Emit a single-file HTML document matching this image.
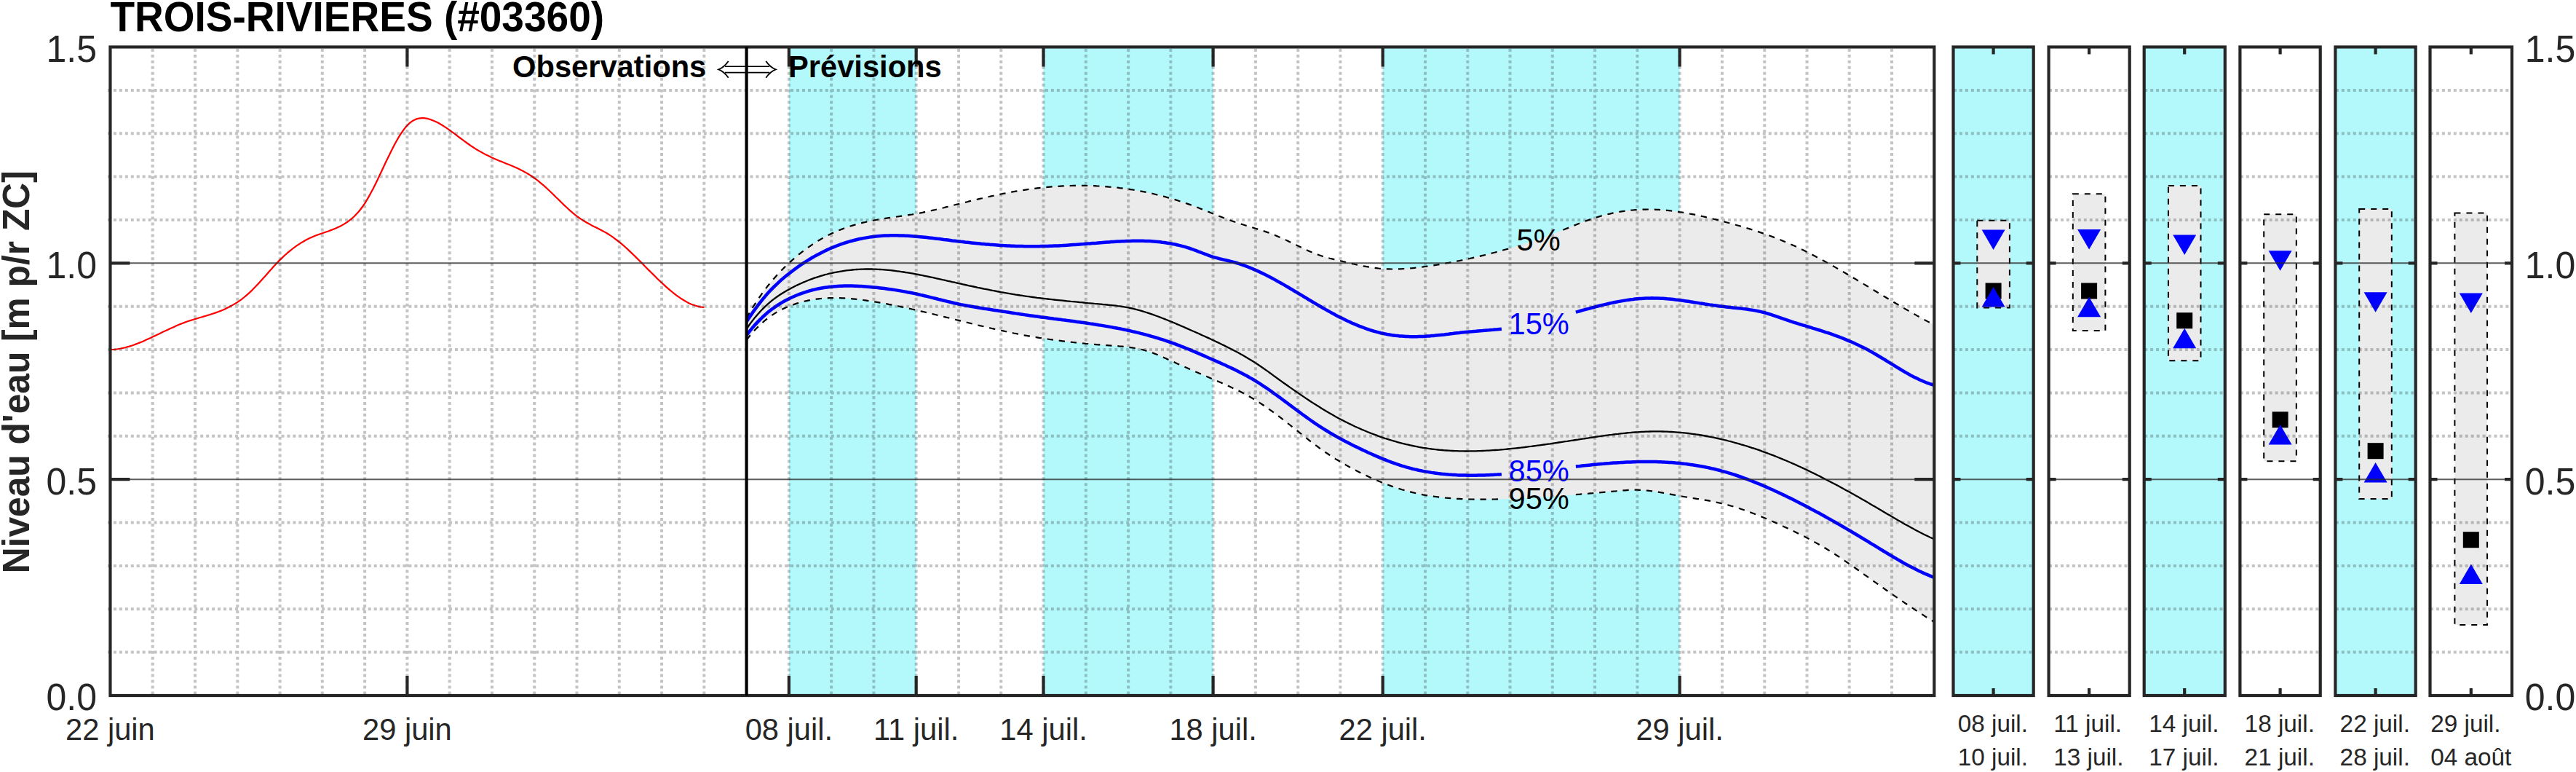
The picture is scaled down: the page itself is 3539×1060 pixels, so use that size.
<!DOCTYPE html>
<html lang="fr"><head><meta charset="utf-8"><title>TROIS-RIVIERES (#03360)</title>
<style>html,body{margin:0;padding:0;background:#fff}svg{display:block}text{font-family:"Liberation Sans",Arial,sans-serif}</style></head><body>
<svg width="3539" height="1060" viewBox="0 0 3539 1060">
<rect width="3539" height="1060" fill="#fff"/>
<rect x="1083.9" y="64.5" width="174.8" height="890.5" fill="#b3f9fc"/>
<rect x="1433.5" y="64.5" width="233.1" height="890.5" fill="#b3f9fc"/>
<rect x="1899.7" y="64.5" width="407.9" height="890.5" fill="#b3f9fc"/>
<path d="M1025.6 436.8 L1031.4 426.7 L1037.2 417.3 L1043.1 408.5 L1048.9 400.3 L1054.7 392.7 L1060.5 385.6 L1066.4 378.9 L1072.2 372.7 L1078.0 366.8 L1083.9 361.2 L1089.7 356.0 L1095.5 351.0 L1101.3 346.3 L1107.2 341.9 L1113.0 337.8 L1118.8 333.9 L1124.7 330.2 L1130.5 326.9 L1136.3 323.7 L1142.1 320.8 L1148.0 318.2 L1153.8 315.7 L1159.6 313.5 L1165.4 311.4 L1171.3 309.6 L1177.1 307.9 L1182.9 306.4 L1188.8 305.0 L1194.6 303.7 L1200.4 302.6 L1206.2 301.5 L1212.1 300.5 L1217.9 299.6 L1223.7 298.8 L1229.5 298.0 L1235.4 297.1 L1241.2 296.3 L1247.0 295.4 L1252.9 294.5 L1258.7 293.5 L1264.5 292.4 L1270.3 291.2 L1276.2 289.9 L1282.0 288.6 L1287.8 287.3 L1293.7 285.9 L1299.5 284.4 L1305.3 283.0 L1311.1 281.5 L1317.0 280.1 L1322.8 278.6 L1328.6 277.2 L1334.4 275.7 L1340.3 274.3 L1346.1 272.9 L1351.9 271.6 L1357.8 270.3 L1363.6 269.0 L1369.4 267.7 L1375.2 266.5 L1381.1 265.4 L1386.9 264.3 L1392.7 263.2 L1398.5 262.2 L1404.4 261.2 L1410.2 260.4 L1416.0 259.5 L1421.9 258.8 L1427.7 258.1 L1433.5 257.4 L1439.3 256.9 L1445.2 256.4 L1451.0 256.0 L1456.8 255.6 L1462.7 255.3 L1468.5 255.1 L1474.3 254.9 L1480.1 254.8 L1486.0 254.8 L1491.8 254.9 L1497.6 255.0 L1503.4 255.2 L1509.3 255.5 L1515.1 255.9 L1520.9 256.3 L1526.8 256.8 L1532.6 257.4 L1538.4 258.1 L1544.2 258.8 L1550.1 259.6 L1555.9 260.5 L1561.7 261.5 L1567.5 262.6 L1573.4 263.7 L1579.2 265.0 L1585.0 266.3 L1590.9 267.7 L1596.7 269.2 L1602.5 270.7 L1608.3 272.4 L1614.2 274.1 L1620.0 276.0 L1625.8 277.9 L1631.6 279.9 L1637.5 282.0 L1643.3 284.2 L1649.1 286.4 L1655.0 288.7 L1660.8 291.1 L1666.6 293.4 L1672.4 295.7 L1678.3 298.0 L1684.1 300.3 L1689.9 302.4 L1695.8 304.5 L1701.6 306.4 L1707.4 308.3 L1713.2 310.1 L1719.1 311.9 L1724.9 313.7 L1730.7 315.5 L1736.5 317.4 L1742.4 319.4 L1748.2 321.6 L1754.0 323.9 L1759.9 326.4 L1765.7 329.1 L1771.5 331.9 L1777.3 334.7 L1783.2 337.6 L1789.0 340.4 L1794.8 343.1 L1800.6 345.7 L1806.5 348.1 L1812.3 350.3 L1818.1 352.2 L1824.0 353.9 L1829.8 355.4 L1835.6 356.9 L1841.4 358.2 L1847.3 359.6 L1853.1 361.0 L1858.9 362.3 L1864.8 363.6 L1870.6 364.8 L1876.4 365.9 L1882.2 366.9 L1888.1 367.8 L1893.9 368.5 L1899.7 369.0 L1905.5 369.3 L1911.4 369.5 L1917.2 369.5 L1923.0 369.3 L1928.9 369.0 L1934.7 368.6 L1940.5 368.1 L1946.3 367.4 L1952.2 366.7 L1958.0 366.0 L1963.8 365.2 L1969.6 364.3 L1975.5 363.4 L1981.3 362.4 L1987.1 361.4 L1993.0 360.3 L1998.8 359.2 L2004.6 358.1 L2010.4 356.9 L2016.3 355.6 L2022.1 354.3 L2027.9 353.0 L2033.8 351.6 L2039.6 350.2 L2045.4 348.7 L2051.2 347.2 L2057.1 345.7 L2062.9 344.1 L2068.7 342.5 L2074.5 340.8 L2080.4 339.1 L2086.2 337.4 L2092.0 335.6 L2097.9 333.8 L2103.7 331.9 L2109.5 329.9 L2115.3 327.9 L2121.2 325.8 L2127.0 323.7 L2132.8 321.5 L2138.6 319.2 L2144.5 316.9 L2150.3 314.5 L2156.1 312.2 L2162.0 309.8 L2167.8 307.5 L2173.6 305.3 L2179.4 303.1 L2185.3 301.1 L2191.1 299.1 L2196.9 297.4 L2202.8 295.7 L2208.6 294.2 L2214.4 292.9 L2220.2 291.7 L2226.1 290.7 L2231.9 289.8 L2237.7 289.1 L2243.5 288.5 L2249.4 288.0 L2255.2 287.7 L2261.0 287.6 L2266.9 287.5 L2272.7 287.7 L2278.5 287.9 L2284.3 288.3 L2290.2 288.8 L2296.0 289.5 L2301.8 290.2 L2307.6 291.1 L2313.5 292.0 L2319.3 293.0 L2325.1 294.1 L2331.0 295.3 L2336.8 296.6 L2342.6 297.9 L2348.4 299.2 L2354.3 300.7 L2360.1 302.1 L2365.9 303.6 L2371.7 305.2 L2377.6 306.7 L2383.4 308.3 L2389.2 310.0 L2395.1 311.7 L2400.9 313.5 L2406.7 315.3 L2412.5 317.2 L2418.4 319.1 L2424.2 321.1 L2430.0 323.2 L2435.9 325.4 L2441.7 327.6 L2447.5 330.0 L2453.3 332.4 L2459.2 335.0 L2465.0 337.6 L2470.8 340.3 L2476.6 343.1 L2482.5 346.0 L2488.3 349.0 L2494.1 352.0 L2500.0 355.1 L2505.8 358.3 L2511.6 361.5 L2517.4 364.8 L2523.3 368.1 L2529.1 371.4 L2534.9 374.8 L2540.7 378.3 L2546.6 381.7 L2552.4 385.2 L2558.2 388.7 L2564.1 392.2 L2569.9 395.7 L2575.7 399.2 L2581.5 402.7 L2587.4 406.3 L2593.2 409.8 L2599.0 413.2 L2604.9 416.7 L2610.7 420.1 L2616.5 423.6 L2622.3 426.9 L2628.2 430.3 L2634.0 433.6 L2639.8 436.8 L2645.6 440.0 L2651.5 443.1 L2657.3 446.2 L2657.3 854.1 L2651.5 850.5 L2645.6 846.8 L2639.8 843.0 L2634.0 839.2 L2628.2 835.4 L2622.3 831.5 L2616.5 827.6 L2610.7 823.6 L2604.9 819.6 L2599.0 815.6 L2593.2 811.5 L2587.4 807.4 L2581.5 803.3 L2575.7 799.2 L2569.9 795.0 L2564.1 790.8 L2558.2 786.7 L2552.4 782.5 L2546.6 778.4 L2540.7 774.3 L2534.9 770.3 L2529.1 766.4 L2523.3 762.5 L2517.4 758.7 L2511.6 755.1 L2505.8 751.6 L2500.0 748.2 L2494.1 744.9 L2488.3 741.7 L2482.5 738.6 L2476.6 735.6 L2470.8 732.7 L2465.0 729.8 L2459.2 727.0 L2453.3 724.2 L2447.5 721.5 L2441.7 718.8 L2435.9 716.2 L2430.0 713.7 L2424.2 711.2 L2418.4 708.8 L2412.5 706.4 L2406.7 704.2 L2400.9 702.0 L2395.1 700.0 L2389.2 698.0 L2383.4 696.2 L2377.6 694.5 L2371.7 692.9 L2365.9 691.4 L2360.1 690.1 L2354.3 688.9 L2348.4 687.7 L2342.6 686.7 L2336.8 685.7 L2331.0 684.8 L2325.1 683.9 L2319.3 682.9 L2313.5 682.0 L2307.6 681.0 L2301.8 679.9 L2296.0 678.8 L2290.2 677.8 L2284.3 676.7 L2278.5 675.7 L2272.7 674.8 L2266.9 674.0 L2261.0 673.4 L2255.2 673.0 L2249.4 672.7 L2243.5 672.7 L2237.7 672.9 L2231.9 673.3 L2226.1 673.8 L2220.2 674.3 L2214.4 674.8 L2208.6 675.3 L2202.8 675.8 L2196.9 676.4 L2191.1 676.9 L2185.3 677.4 L2179.4 677.9 L2173.6 678.4 L2167.8 678.9 L2162.0 679.4 L2156.1 679.9 L2150.3 680.4 L2144.5 680.9 L2138.6 681.3 L2132.8 681.7 L2127.0 682.1 L2121.2 682.5 L2115.3 682.9 L2109.5 683.3 L2103.7 683.6 L2097.9 683.9 L2092.0 684.2 L2086.2 684.5 L2080.4 684.7 L2074.5 684.9 L2068.7 685.1 L2062.9 685.3 L2057.1 685.4 L2051.2 685.5 L2045.4 685.6 L2039.6 685.6 L2033.8 685.6 L2027.9 685.6 L2022.1 685.5 L2016.3 685.4 L2010.4 685.2 L2004.6 684.9 L1998.8 684.6 L1993.0 684.2 L1987.1 683.7 L1981.3 683.1 L1975.5 682.4 L1969.6 681.6 L1963.8 680.8 L1958.0 679.8 L1952.2 678.7 L1946.3 677.5 L1940.5 676.1 L1934.7 674.7 L1928.9 673.0 L1923.0 671.3 L1917.2 669.4 L1911.4 667.4 L1905.5 665.2 L1899.7 663.0 L1893.9 660.6 L1888.1 658.1 L1882.2 655.4 L1876.4 652.7 L1870.6 649.9 L1864.8 647.0 L1858.9 643.9 L1853.1 640.8 L1847.3 637.5 L1841.4 634.1 L1835.6 630.6 L1829.8 626.9 L1824.0 623.0 L1818.1 619.0 L1812.3 614.9 L1806.5 610.6 L1800.6 606.1 L1794.8 601.5 L1789.0 596.9 L1783.2 592.2 L1777.3 587.6 L1771.5 583.0 L1765.7 578.4 L1759.9 573.9 L1754.0 569.5 L1748.2 565.2 L1742.4 561.0 L1736.5 557.0 L1730.7 553.1 L1724.9 549.4 L1719.1 546.0 L1713.2 542.7 L1707.4 539.6 L1701.6 536.6 L1695.8 533.8 L1689.9 531.0 L1684.1 528.4 L1678.3 525.8 L1672.4 523.2 L1666.6 520.7 L1660.8 518.2 L1655.0 515.7 L1649.1 513.2 L1643.3 510.7 L1637.5 508.2 L1631.6 505.6 L1625.8 503.0 L1620.0 500.5 L1614.2 497.8 L1608.3 495.2 L1602.5 492.5 L1596.7 489.9 L1590.9 487.4 L1585.0 485.1 L1579.2 483.0 L1573.4 481.2 L1567.5 479.7 L1561.7 478.5 L1555.9 477.5 L1550.1 476.7 L1544.2 476.0 L1538.4 475.5 L1532.6 475.0 L1526.8 474.6 L1520.9 474.2 L1515.1 473.7 L1509.3 473.3 L1503.4 472.8 L1497.6 472.3 L1491.8 471.8 L1486.0 471.2 L1480.1 470.6 L1474.3 470.0 L1468.5 469.3 L1462.7 468.7 L1456.8 467.9 L1451.0 467.2 L1445.2 466.4 L1439.3 465.5 L1433.5 464.7 L1427.7 463.8 L1421.9 462.8 L1416.0 461.8 L1410.2 460.8 L1404.4 459.7 L1398.5 458.6 L1392.7 457.5 L1386.9 456.3 L1381.1 455.0 L1375.2 453.8 L1369.4 452.5 L1363.6 451.2 L1357.8 449.8 L1351.9 448.4 L1346.1 447.1 L1340.3 445.6 L1334.4 444.2 L1328.6 442.8 L1322.8 441.4 L1317.0 439.9 L1311.1 438.5 L1305.3 437.0 L1299.5 435.6 L1293.7 434.2 L1287.8 432.7 L1282.0 431.3 L1276.2 429.9 L1270.3 428.5 L1264.5 427.2 L1258.7 425.8 L1252.9 424.5 L1247.0 423.2 L1241.2 421.9 L1235.4 420.7 L1229.5 419.5 L1223.7 418.3 L1217.9 417.2 L1212.1 416.2 L1206.2 415.1 L1200.4 414.2 L1194.6 413.2 L1188.8 412.4 L1182.9 411.6 L1177.1 410.9 L1171.3 410.3 L1165.4 409.8 L1159.6 409.4 L1153.8 409.2 L1148.0 409.1 L1142.1 409.2 L1136.3 409.4 L1130.5 409.8 L1124.7 410.3 L1118.8 411.1 L1113.0 412.1 L1107.2 413.3 L1101.3 414.8 L1095.5 416.4 L1089.7 418.4 L1083.9 420.6 L1078.0 423.1 L1072.2 425.9 L1066.4 429.1 L1060.5 432.8 L1054.7 437.0 L1048.9 441.8 L1043.1 447.1 L1037.2 453.1 L1031.4 459.6 L1025.6 466.7Z" fill="#ebebeb"/>
<path d="M1025.6 436.8 L1028.5 431.6 L1031.4 426.7 L1034.3 421.9 L1037.2 417.3 L1040.2 412.8 L1043.1 408.5 L1046.0 404.4 L1048.9 400.3 L1051.8 396.5 L1054.7 392.7 L1057.6 389.1 L1060.5 385.6 L1063.5 382.2 L1066.4 378.9 L1069.3 375.7 L1072.2 372.7 L1075.1 369.7 L1078.0 366.8 L1080.9 364.0 L1083.9 361.2 L1086.8 358.6 L1089.7 356.0 L1092.6 353.5 L1095.5 351.0 L1098.4 348.6 L1101.3 346.3 L1104.3 344.1 L1107.2 341.9 L1110.1 339.8 L1113.0 337.8 L1115.9 335.8 L1118.8 333.9 L1121.7 332.0 L1124.7 330.2 L1127.6 328.5 L1130.5 326.9 L1133.4 325.3 L1136.3 323.7 L1139.2 322.2 L1142.1 320.8 L1145.0 319.5 L1148.0 318.2 L1150.9 316.9 L1153.8 315.7 L1156.7 314.6 L1159.6 313.5 L1162.5 312.4 L1165.4 311.4 L1168.4 310.5 L1171.3 309.6 L1174.2 308.7 L1177.1 307.9 L1180.0 307.1 L1182.9 306.4 L1185.8 305.6 L1188.8 305.0 L1191.7 304.3 L1194.6 303.7 L1197.5 303.1 L1200.4 302.6 L1203.3 302.0 L1206.2 301.5 L1209.2 301.0 L1212.1 300.5 L1215.0 300.1 L1217.9 299.6 L1220.8 299.2 L1223.7 298.8 L1226.6 298.4 L1229.5 298.0 L1232.5 297.5 L1235.4 297.1 L1238.3 296.7 L1241.2 296.3 L1244.1 295.8 L1247.0 295.4 L1249.9 294.9 L1252.9 294.5 L1255.8 294.0 L1258.7 293.5 L1261.6 292.9 L1264.5 292.4 L1267.4 291.8 L1270.3 291.2 L1273.3 290.6 L1276.2 289.9 L1279.1 289.3 L1282.0 288.6 L1284.9 288.0 L1287.8 287.3 L1290.7 286.6 L1293.7 285.9 L1296.6 285.2 L1299.5 284.4 L1302.4 283.7 L1305.3 283.0 L1308.2 282.3 L1311.1 281.5 L1314.0 280.8 L1317.0 280.1 L1319.9 279.3 L1322.8 278.6 L1325.7 277.9 L1328.6 277.2 L1331.5 276.4 L1334.4 275.7 L1337.4 275.0 L1340.3 274.3 L1343.2 273.6 L1346.1 272.9 L1349.0 272.3 L1351.9 271.6 L1354.8 270.9 L1357.8 270.3 L1360.7 269.6 L1363.6 269.0 L1366.5 268.4 L1369.4 267.7 L1372.3 267.1 L1375.2 266.5 L1378.2 265.9 L1381.1 265.4 L1384.0 264.8 L1386.9 264.3 L1389.8 263.7 L1392.7 263.2 L1395.6 262.7 L1398.5 262.2 L1401.5 261.7 L1404.4 261.2 L1407.3 260.8 L1410.2 260.4 L1413.1 259.9 L1416.0 259.5 L1418.9 259.1 L1421.9 258.8 L1424.8 258.4 L1427.7 258.1 L1430.6 257.8 L1433.5 257.4 L1436.4 257.2 L1439.3 256.9 L1442.3 256.6 L1445.2 256.4 L1448.1 256.2 L1451.0 256.0 L1453.9 255.8 L1456.8 255.6 L1459.7 255.4 L1462.7 255.3 L1465.6 255.2 L1468.5 255.1 L1471.4 255.0 L1474.3 254.9 L1477.2 254.9 L1480.1 254.8 L1483.0 254.8 L1486.0 254.8 L1488.9 254.9 L1491.8 254.9 L1494.7 255.0 L1497.6 255.0 L1500.5 255.1 L1503.4 255.2 L1506.4 255.4 L1509.3 255.5 L1512.2 255.7 L1515.1 255.9 L1518.0 256.1 L1520.9 256.3 L1523.8 256.6 L1526.8 256.8 L1529.7 257.1 L1532.6 257.4 L1535.5 257.7 L1538.4 258.1 L1541.3 258.4 L1544.2 258.8 L1547.2 259.2 L1550.1 259.6 L1553.0 260.1 L1555.9 260.5 L1558.8 261.0 L1561.7 261.5 L1564.6 262.0 L1567.5 262.6 L1570.5 263.2 L1573.4 263.7 L1576.3 264.3 L1579.2 265.0 L1582.1 265.6 L1585.0 266.3 L1587.9 267.0 L1590.9 267.7 L1593.8 268.4 L1596.7 269.2 L1599.6 269.9 L1602.5 270.7 L1605.4 271.6 L1608.3 272.4 L1611.3 273.3 L1614.2 274.1 L1617.1 275.0 L1620.0 276.0 L1622.9 276.9 L1625.8 277.9 L1628.7 278.9 L1631.6 279.9 L1634.6 280.9 L1637.5 282.0 L1640.4 283.1 L1643.3 284.2 L1646.2 285.3 L1649.1 286.4 L1652.0 287.6 L1655.0 288.7 L1657.9 289.9 L1660.8 291.1 L1663.7 292.3 L1666.6 293.4 L1669.5 294.6 L1672.4 295.7 L1675.4 296.9 L1678.3 298.0 L1681.2 299.2 L1684.1 300.3 L1687.0 301.4 L1689.9 302.4 L1692.8 303.5 L1695.8 304.5 L1698.7 305.5 L1701.6 306.4 L1704.5 307.4 L1707.4 308.3 L1710.3 309.2 L1713.2 310.1 L1716.1 311.0 L1719.1 311.9 L1722.0 312.8 L1724.9 313.7 L1727.8 314.6 L1730.7 315.5 L1733.6 316.5 L1736.5 317.4 L1739.5 318.4 L1742.4 319.4 L1745.3 320.5 L1748.2 321.6 L1751.1 322.7 L1754.0 323.9 L1756.9 325.2 L1759.9 326.4 L1762.8 327.7 L1765.7 329.1 L1768.6 330.5 L1771.5 331.9 L1774.4 333.3 L1777.3 334.7 L1780.3 336.1 L1783.2 337.6 L1786.1 339.0 L1789.0 340.4 L1791.9 341.7 L1794.8 343.1 L1797.7 344.4 L1800.6 345.7 L1803.6 346.9 L1806.5 348.1 L1809.4 349.2 L1812.3 350.3 L1815.2 351.3 L1818.1 352.2 L1821.0 353.1 L1824.0 353.9 L1826.9 354.7 L1829.8 355.4 L1832.7 356.1 L1835.6 356.9 L1838.5 357.5 L1841.4 358.2 L1844.4 358.9 L1847.3 359.6 L1850.2 360.3 L1853.1 361.0 L1856.0 361.7 L1858.9 362.3 L1861.8 363.0 L1864.8 363.6 L1867.7 364.2 L1870.6 364.8 L1873.5 365.4 L1876.4 365.9 L1879.3 366.4 L1882.2 366.9 L1885.1 367.4 L1888.1 367.8 L1891.0 368.1 L1893.9 368.5 L1896.8 368.8 L1899.7 369.0 L1902.6 369.2 L1905.5 369.3 L1908.5 369.4 L1911.4 369.5 L1914.3 369.5 L1917.2 369.5 L1920.1 369.4 L1923.0 369.3 L1925.9 369.2 L1928.9 369.0 L1931.8 368.8 L1934.7 368.6 L1937.6 368.3 L1940.5 368.1 L1943.4 367.8 L1946.3 367.4 L1949.3 367.1 L1952.2 366.7 L1955.1 366.4 L1958.0 366.0 L1960.9 365.6 L1963.8 365.2 L1966.7 364.7 L1969.6 364.3 L1972.6 363.8 L1975.5 363.4 L1978.4 362.9 L1981.3 362.4 L1984.2 361.9 L1987.1 361.4 L1990.0 360.9 L1993.0 360.3 L1995.9 359.8 L1998.8 359.2 L2001.7 358.6 L2004.6 358.1 L2007.5 357.5 L2010.4 356.9 L2013.4 356.2 L2016.3 355.6 L2019.2 355.0 L2022.1 354.3 L2025.0 353.7 L2027.9 353.0 L2030.8 352.3 L2033.8 351.6 L2036.7 350.9 L2039.6 350.2 L2042.5 349.5 L2045.4 348.7 L2048.3 348.0 L2051.2 347.2 L2054.1 346.5 L2057.1 345.7 L2060.0 344.9 L2062.9 344.1 L2065.8 343.3 L2068.7 342.5 L2071.6 341.7 L2074.5 340.8 M2147.4 315.7 L2150.3 314.5 L2153.2 313.4 L2156.1 312.2 L2159.0 311.0 L2162.0 309.8 L2164.9 308.7 L2167.8 307.5 L2170.7 306.4 L2173.6 305.3 L2176.5 304.2 L2179.4 303.1 L2182.4 302.1 L2185.3 301.1 L2188.2 300.1 L2191.1 299.1 L2194.0 298.2 L2196.9 297.4 L2199.8 296.5 L2202.8 295.7 L2205.7 295.0 L2208.6 294.2 L2211.5 293.6 L2214.4 292.9 L2217.3 292.3 L2220.2 291.7 L2223.1 291.2 L2226.1 290.7 L2229.0 290.2 L2231.9 289.8 L2234.8 289.4 L2237.7 289.1 L2240.6 288.7 L2243.5 288.5 L2246.5 288.2 L2249.4 288.0 L2252.3 287.8 L2255.2 287.7 L2258.1 287.6 L2261.0 287.6 L2263.9 287.5 L2266.9 287.5 L2269.8 287.6 L2272.7 287.7 L2275.6 287.8 L2278.5 287.9 L2281.4 288.1 L2284.3 288.3 L2287.3 288.6 L2290.2 288.8 L2293.1 289.1 L2296.0 289.5 L2298.9 289.8 L2301.8 290.2 L2304.7 290.6 L2307.6 291.1 L2310.6 291.5 L2313.5 292.0 L2316.4 292.5 L2319.3 293.0 L2322.2 293.6 L2325.1 294.1 L2328.0 294.7 L2331.0 295.3 L2333.9 295.9 L2336.8 296.6 L2339.7 297.2 L2342.6 297.9 L2345.5 298.6 L2348.4 299.2 L2351.4 299.9 L2354.3 300.7 L2357.2 301.4 L2360.1 302.1 L2363.0 302.9 L2365.9 303.6 L2368.8 304.4 L2371.7 305.2 L2374.7 306.0 L2377.6 306.7 L2380.5 307.5 L2383.4 308.3 L2386.3 309.2 L2389.2 310.0 L2392.1 310.8 L2395.1 311.7 L2398.0 312.6 L2400.9 313.5 L2403.8 314.4 L2406.7 315.3 L2409.6 316.2 L2412.5 317.2 L2415.5 318.1 L2418.4 319.1 L2421.3 320.1 L2424.2 321.1 L2427.1 322.1 L2430.0 323.2 L2432.9 324.3 L2435.9 325.4 L2438.8 326.5 L2441.7 327.6 L2444.6 328.8 L2447.5 330.0 L2450.4 331.2 L2453.3 332.4 L2456.2 333.7 L2459.2 335.0 L2462.1 336.3 L2465.0 337.6 L2467.9 338.9 L2470.8 340.3 L2473.7 341.7 L2476.6 343.1 L2479.6 344.6 L2482.5 346.0 L2485.4 347.5 L2488.3 349.0 L2491.2 350.5 L2494.1 352.0 L2497.0 353.6 L2500.0 355.1 L2502.9 356.7 L2505.8 358.3 L2508.7 359.9 L2511.6 361.5 L2514.5 363.1 L2517.4 364.8 L2520.4 366.4 L2523.3 368.1 L2526.2 369.7 L2529.1 371.4 L2532.0 373.1 L2534.9 374.8 L2537.8 376.5 L2540.7 378.3 L2543.7 380.0 L2546.6 381.7 L2549.5 383.4 L2552.4 385.2 L2555.3 386.9 L2558.2 388.7 L2561.1 390.4 L2564.1 392.2 L2567.0 393.9 L2569.9 395.7 L2572.8 397.5 L2575.7 399.2 L2578.6 401.0 L2581.5 402.7 L2584.5 404.5 L2587.4 406.3 L2590.3 408.0 L2593.2 409.8 L2596.1 411.5 L2599.0 413.2 L2601.9 415.0 L2604.9 416.7 L2607.8 418.4 L2610.7 420.1 L2613.6 421.9 L2616.5 423.6 L2619.4 425.2 L2622.3 426.9 L2625.2 428.6 L2628.2 430.3 L2631.1 431.9 L2634.0 433.6 L2636.9 435.2 L2639.8 436.8 L2642.7 438.4 L2645.6 440.0 L2648.6 441.6 L2651.5 443.1 L2654.4 444.7 L2657.3 446.2" stroke="#000" stroke-width="2.2" stroke-dasharray="8.3 7.9" fill="none"/>
<path d="M1025.6 466.7 L1028.5 463.1 L1031.4 459.6 L1034.3 456.3 L1037.2 453.1 L1040.2 450.0 L1043.1 447.1 L1046.0 444.4 L1048.9 441.8 L1051.8 439.3 L1054.7 437.0 L1057.6 434.8 L1060.5 432.8 L1063.5 430.9 L1066.4 429.1 L1069.3 427.5 L1072.2 425.9 L1075.1 424.4 L1078.0 423.1 L1080.9 421.8 L1083.9 420.6 L1086.8 419.4 L1089.7 418.4 L1092.6 417.4 L1095.5 416.4 L1098.4 415.6 L1101.3 414.8 L1104.3 414.0 L1107.2 413.3 L1110.1 412.7 L1113.0 412.1 L1115.9 411.6 L1118.8 411.1 L1121.7 410.7 L1124.7 410.3 L1127.6 410.0 L1130.5 409.8 L1133.4 409.5 L1136.3 409.4 L1139.2 409.2 L1142.1 409.2 L1145.0 409.1 L1148.0 409.1 L1150.9 409.1 L1153.8 409.2 L1156.7 409.3 L1159.6 409.4 L1162.5 409.6 L1165.4 409.8 L1168.4 410.0 L1171.3 410.3 L1174.2 410.6 L1177.1 410.9 L1180.0 411.2 L1182.9 411.6 L1185.8 412.0 L1188.8 412.4 L1191.7 412.8 L1194.6 413.2 L1197.5 413.7 L1200.4 414.2 L1203.3 414.6 L1206.2 415.1 L1209.2 415.6 L1212.1 416.2 L1215.0 416.7 L1217.9 417.2 L1220.8 417.8 L1223.7 418.3 L1226.6 418.9 L1229.5 419.5 L1232.5 420.1 L1235.4 420.7 L1238.3 421.3 L1241.2 421.9 L1244.1 422.6 L1247.0 423.2 L1249.9 423.8 L1252.9 424.5 L1255.8 425.1 L1258.7 425.8 L1261.6 426.5 L1264.5 427.2 L1267.4 427.8 L1270.3 428.5 L1273.3 429.2 L1276.2 429.9 L1279.1 430.6 L1282.0 431.3 L1284.9 432.0 L1287.8 432.7 L1290.7 433.4 L1293.7 434.2 L1296.6 434.9 L1299.5 435.6 L1302.4 436.3 L1305.3 437.0 L1308.2 437.8 L1311.1 438.5 L1314.0 439.2 L1317.0 439.9 L1319.9 440.6 L1322.8 441.4 L1325.7 442.1 L1328.6 442.8 L1331.5 443.5 L1334.4 444.2 L1337.4 444.9 L1340.3 445.6 L1343.2 446.4 L1346.1 447.1 L1349.0 447.7 L1351.9 448.4 L1354.8 449.1 L1357.8 449.8 L1360.7 450.5 L1363.6 451.2 L1366.5 451.8 L1369.4 452.5 L1372.3 453.1 L1375.2 453.8 L1378.2 454.4 L1381.1 455.0 L1384.0 455.7 L1386.9 456.3 L1389.8 456.9 L1392.7 457.5 L1395.6 458.0 L1398.5 458.6 L1401.5 459.2 L1404.4 459.7 L1407.3 460.3 L1410.2 460.8 L1413.1 461.3 L1416.0 461.8 L1418.9 462.3 L1421.9 462.8 L1424.8 463.3 L1427.7 463.8 L1430.6 464.2 L1433.5 464.7 L1436.4 465.1 L1439.3 465.5 L1442.3 466.0 L1445.2 466.4 L1448.1 466.8 L1451.0 467.2 L1453.9 467.6 L1456.8 467.9 L1459.7 468.3 L1462.7 468.7 L1465.6 469.0 L1468.5 469.3 L1471.4 469.7 L1474.3 470.0 L1477.2 470.3 L1480.1 470.6 L1483.0 470.9 L1486.0 471.2 L1488.9 471.5 L1491.8 471.8 L1494.7 472.0 L1497.6 472.3 L1500.5 472.6 L1503.4 472.8 L1506.4 473.1 L1509.3 473.3 L1512.2 473.5 L1515.1 473.7 L1518.0 474.0 L1520.9 474.2 L1523.8 474.4 L1526.8 474.6 L1529.7 474.8 L1532.6 475.0 L1535.5 475.2 L1538.4 475.5 L1541.3 475.7 L1544.2 476.0 L1547.2 476.3 L1550.1 476.7 L1553.0 477.1 L1555.9 477.5 L1558.8 478.0 L1561.7 478.5 L1564.6 479.1 L1567.5 479.7 L1570.5 480.4 L1573.4 481.2 L1576.3 482.1 L1579.2 483.0 L1582.1 484.0 L1585.0 485.1 L1587.9 486.2 L1590.9 487.4 L1593.8 488.6 L1596.7 489.9 L1599.6 491.2 L1602.5 492.5 L1605.4 493.9 L1608.3 495.2 L1611.3 496.5 L1614.2 497.8 L1617.1 499.2 L1620.0 500.5 L1622.9 501.8 L1625.8 503.0 L1628.7 504.3 L1631.6 505.6 L1634.6 506.9 L1637.5 508.2 L1640.4 509.4 L1643.3 510.7 L1646.2 511.9 L1649.1 513.2 L1652.0 514.5 L1655.0 515.7 L1657.9 517.0 L1660.8 518.2 L1663.7 519.5 L1666.6 520.7 L1669.5 522.0 L1672.4 523.2 L1675.4 524.5 L1678.3 525.8 L1681.2 527.1 L1684.1 528.4 L1687.0 529.7 L1689.9 531.0 L1692.8 532.4 L1695.8 533.8 L1698.7 535.2 L1701.6 536.6 L1704.5 538.1 L1707.4 539.6 L1710.3 541.1 L1713.2 542.7 L1716.1 544.3 L1719.1 546.0 L1722.0 547.7 L1724.9 549.4 L1727.8 551.2 L1730.7 553.1 L1733.6 555.0 L1736.5 557.0 L1739.5 559.0 L1742.4 561.0 L1745.3 563.1 L1748.2 565.2 L1751.1 567.3 L1754.0 569.5 L1756.9 571.7 L1759.9 573.9 L1762.8 576.1 L1765.7 578.4 L1768.6 580.7 L1771.5 583.0 L1774.4 585.3 L1777.3 587.6 L1780.3 589.9 L1783.2 592.2 L1786.1 594.6 L1789.0 596.9 L1791.9 599.2 L1794.8 601.5 L1797.7 603.8 L1800.6 606.1 L1803.6 608.3 L1806.5 610.6 L1809.4 612.7 L1812.3 614.9 L1815.2 617.0 L1818.1 619.0 L1821.0 621.1 L1824.0 623.0 L1826.9 625.0 L1829.8 626.9 L1832.7 628.7 L1835.6 630.6 L1838.5 632.3 L1841.4 634.1 L1844.4 635.8 L1847.3 637.5 L1850.2 639.1 L1853.1 640.8 L1856.0 642.4 L1858.9 643.9 L1861.8 645.4 L1864.8 647.0 L1867.7 648.4 L1870.6 649.9 L1873.5 651.3 L1876.4 652.7 L1879.3 654.1 L1882.2 655.4 L1885.1 656.8 L1888.1 658.1 L1891.0 659.3 L1893.9 660.6 L1896.8 661.8 L1899.7 663.0 L1902.6 664.1 L1905.5 665.2 L1908.5 666.3 L1911.4 667.4 L1914.3 668.4 L1917.2 669.4 L1920.1 670.4 L1923.0 671.3 L1925.9 672.2 L1928.9 673.0 L1931.8 673.9 L1934.7 674.7 L1937.6 675.4 L1940.5 676.1 L1943.4 676.8 L1946.3 677.5 L1949.3 678.1 L1952.2 678.7 L1955.1 679.3 L1958.0 679.8 L1960.9 680.3 L1963.8 680.8 L1966.7 681.2 L1969.6 681.6 L1972.6 682.0 L1975.5 682.4 L1978.4 682.8 L1981.3 683.1 L1984.2 683.4 L1987.1 683.7 L1990.0 683.9 L1993.0 684.2 L1995.9 684.4 L1998.8 684.6 L2001.7 684.8 L2004.6 684.9 L2007.5 685.1 L2010.4 685.2 L2013.4 685.3 L2016.3 685.4 L2019.2 685.5 L2022.1 685.5 L2025.0 685.6 L2027.9 685.6 L2030.8 685.6 L2033.8 685.6 L2036.7 685.7 L2039.6 685.6 L2042.5 685.6 L2045.4 685.6 L2048.3 685.6 L2051.2 685.5 L2054.1 685.5 L2057.1 685.4 L2060.0 685.4 L2062.9 685.3 L2065.8 685.2 M2164.9 679.2 L2167.8 678.9 L2170.7 678.7 L2173.6 678.4 L2176.5 678.2 L2179.4 677.9 L2182.4 677.7 L2185.3 677.4 L2188.2 677.2 L2191.1 676.9 L2194.0 676.6 L2196.9 676.4 L2199.8 676.1 L2202.8 675.8 L2205.7 675.6 L2208.6 675.3 L2211.5 675.0 L2214.4 674.8 L2217.3 674.5 L2220.2 674.3 L2223.1 674.0 L2226.1 673.8 L2229.0 673.5 L2231.9 673.3 L2234.8 673.1 L2237.7 672.9 L2240.6 672.8 L2243.5 672.7 L2246.5 672.7 L2249.4 672.7 L2252.3 672.8 L2255.2 673.0 L2258.1 673.1 L2261.0 673.4 L2263.9 673.7 L2266.9 674.0 L2269.8 674.4 L2272.7 674.8 L2275.6 675.2 L2278.5 675.7 L2281.4 676.2 L2284.3 676.7 L2287.3 677.2 L2290.2 677.8 L2293.1 678.3 L2296.0 678.8 L2298.9 679.4 L2301.8 679.9 L2304.7 680.5 L2307.6 681.0 L2310.6 681.5 L2313.5 682.0 L2316.4 682.5 L2319.3 682.9 L2322.2 683.4 L2325.1 683.9 L2328.0 684.3 L2331.0 684.8 L2333.9 685.2 L2336.8 685.7 L2339.7 686.2 L2342.6 686.7 L2345.5 687.2 L2348.4 687.7 L2351.4 688.3 L2354.3 688.9 L2357.2 689.5 L2360.1 690.1 L2363.0 690.7 L2365.9 691.4 L2368.8 692.1 L2371.7 692.9 L2374.7 693.6 L2377.6 694.5 L2380.5 695.3 L2383.4 696.2 L2386.3 697.1 L2389.2 698.0 L2392.1 699.0 L2395.1 700.0 L2398.0 701.0 L2400.9 702.0 L2403.8 703.1 L2406.7 704.2 L2409.6 705.3 L2412.5 706.4 L2415.5 707.6 L2418.4 708.8 L2421.3 710.0 L2424.2 711.2 L2427.1 712.4 L2430.0 713.7 L2432.9 714.9 L2435.9 716.2 L2438.8 717.5 L2441.7 718.8 L2444.6 720.2 L2447.5 721.5 L2450.4 722.9 L2453.3 724.2 L2456.2 725.6 L2459.2 727.0 L2462.1 728.4 L2465.0 729.8 L2467.9 731.2 L2470.8 732.7 L2473.7 734.1 L2476.6 735.6 L2479.6 737.1 L2482.5 738.6 L2485.4 740.1 L2488.3 741.7 L2491.2 743.3 L2494.1 744.9 L2497.0 746.5 L2500.0 748.2 L2502.9 749.8 L2505.8 751.6 L2508.7 753.3 L2511.6 755.1 L2514.5 756.9 L2517.4 758.7 L2520.4 760.6 L2523.3 762.5 L2526.2 764.4 L2529.1 766.4 L2532.0 768.3 L2534.9 770.3 L2537.8 772.3 L2540.7 774.3 L2543.7 776.4 L2546.6 778.4 L2549.5 780.5 L2552.4 782.5 L2555.3 784.6 L2558.2 786.7 L2561.1 788.8 L2564.1 790.8 L2567.0 792.9 L2569.9 795.0 L2572.8 797.1 L2575.7 799.2 L2578.6 801.2 L2581.5 803.3 L2584.5 805.4 L2587.4 807.4 L2590.3 809.5 L2593.2 811.5 L2596.1 813.5 L2599.0 815.6 L2601.9 817.6 L2604.9 819.6 L2607.8 821.6 L2610.7 823.6 L2613.6 825.6 L2616.5 827.6 L2619.4 829.5 L2622.3 831.5 L2625.2 833.5 L2628.2 835.4 L2631.1 837.3 L2634.0 839.2 L2636.9 841.1 L2639.8 843.0 L2642.7 844.9 L2645.6 846.8 L2648.6 848.6 L2651.5 850.5 L2654.4 852.3 L2657.3 854.1" stroke="#000" stroke-width="2.2" stroke-dasharray="8.3 7.9" fill="none"/>
<path d="M1025.6 451.8 L1028.5 447.5 L1031.4 443.4 L1034.3 439.6 L1037.2 435.9 L1040.2 432.5 L1043.1 429.2 L1046.0 426.0 L1048.9 423.1 L1051.8 420.3 L1054.7 417.6 L1057.6 415.1 L1060.5 412.7 L1063.5 410.4 L1066.4 408.3 L1069.3 406.3 L1072.2 404.3 L1075.1 402.5 L1078.0 400.7 L1080.9 399.0 L1083.9 397.4 L1086.8 395.8 L1089.7 394.3 L1092.6 392.8 L1095.5 391.4 L1098.4 390.0 L1101.3 388.7 L1104.3 387.4 L1107.2 386.2 L1110.1 385.0 L1113.0 383.9 L1115.9 382.8 L1118.8 381.7 L1121.7 380.8 L1124.7 379.8 L1127.6 378.9 L1130.5 378.1 L1133.4 377.2 L1136.3 376.5 L1139.2 375.7 L1142.1 375.1 L1145.0 374.4 L1148.0 373.8 L1150.9 373.3 L1153.8 372.8 L1156.7 372.3 L1159.6 371.8 L1162.5 371.4 L1165.4 371.1 L1168.4 370.8 L1171.3 370.5 L1174.2 370.2 L1177.1 370.0 L1180.0 369.9 L1182.9 369.7 L1185.8 369.6 L1188.8 369.5 L1191.7 369.5 L1194.6 369.5 L1197.5 369.5 L1200.4 369.6 L1203.3 369.7 L1206.2 369.8 L1209.2 370.0 L1212.1 370.2 L1215.0 370.4 L1217.9 370.6 L1220.8 370.9 L1223.7 371.2 L1226.6 371.5 L1229.5 371.9 L1232.5 372.3 L1235.4 372.7 L1238.3 373.1 L1241.2 373.5 L1244.1 374.0 L1247.0 374.4 L1249.9 374.9 L1252.9 375.4 L1255.8 375.9 L1258.7 376.5 L1261.6 377.0 L1264.5 377.6 L1267.4 378.2 L1270.3 378.8 L1273.3 379.4 L1276.2 380.0 L1279.1 380.6 L1282.0 381.2 L1284.9 381.9 L1287.8 382.5 L1290.7 383.2 L1293.7 383.8 L1296.6 384.5 L1299.5 385.1 L1302.4 385.8 L1305.3 386.4 L1308.2 387.1 L1311.1 387.7 L1314.0 388.4 L1317.0 389.1 L1319.9 389.7 L1322.8 390.4 L1325.7 391.0 L1328.6 391.6 L1331.5 392.3 L1334.4 392.9 L1337.4 393.5 L1340.3 394.1 L1343.2 394.8 L1346.1 395.4 L1349.0 396.0 L1351.9 396.6 L1354.8 397.1 L1357.8 397.7 L1360.7 398.3 L1363.6 398.9 L1366.5 399.4 L1369.4 400.0 L1372.3 400.5 L1375.2 401.1 L1378.2 401.6 L1381.1 402.1 L1384.0 402.6 L1386.9 403.1 L1389.8 403.6 L1392.7 404.1 L1395.6 404.6 L1398.5 405.0 L1401.5 405.5 L1404.4 405.9 L1407.3 406.4 L1410.2 406.8 L1413.1 407.2 L1416.0 407.6 L1418.9 408.0 L1421.9 408.4 L1424.8 408.8 L1427.7 409.1 L1430.6 409.5 L1433.5 409.8 L1436.4 410.2 L1439.3 410.5 L1442.3 410.8 L1445.2 411.2 L1448.1 411.5 L1451.0 411.8 L1453.9 412.1 L1456.8 412.4 L1459.7 412.7 L1462.7 413.0 L1465.6 413.3 L1468.5 413.6 L1471.4 413.9 L1474.3 414.1 L1477.2 414.4 L1480.1 414.7 L1483.0 415.0 L1486.0 415.2 L1488.9 415.5 L1491.8 415.8 L1494.7 416.1 L1497.6 416.3 L1500.5 416.6 L1503.4 416.9 L1506.4 417.1 L1509.3 417.4 L1512.2 417.7 L1515.1 418.0 L1518.0 418.2 L1520.9 418.5 L1523.8 418.8 L1526.8 419.1 L1529.7 419.4 L1532.6 419.7 L1535.5 420.1 L1538.4 420.4 L1541.3 420.9 L1544.2 421.3 L1547.2 421.8 L1550.1 422.4 L1553.0 423.0 L1555.9 423.6 L1558.8 424.3 L1561.7 425.1 L1564.6 425.8 L1567.5 426.7 L1570.5 427.6 L1573.4 428.5 L1576.3 429.4 L1579.2 430.4 L1582.1 431.4 L1585.0 432.4 L1587.9 433.5 L1590.9 434.5 L1593.8 435.6 L1596.7 436.8 L1599.6 437.9 L1602.5 439.0 L1605.4 440.2 L1608.3 441.4 L1611.3 442.6 L1614.2 443.8 L1617.1 445.1 L1620.0 446.3 L1622.9 447.6 L1625.8 448.8 L1628.7 450.1 L1631.6 451.4 L1634.6 452.7 L1637.5 454.0 L1640.4 455.2 L1643.3 456.5 L1646.2 457.8 L1649.1 459.1 L1652.0 460.5 L1655.0 461.8 L1657.9 463.1 L1660.8 464.4 L1663.7 465.8 L1666.6 467.1 L1669.5 468.5 L1672.4 469.9 L1675.4 471.3 L1678.3 472.7 L1681.2 474.1 L1684.1 475.6 L1687.0 477.0 L1689.9 478.5 L1692.8 480.0 L1695.8 481.5 L1698.7 483.1 L1701.6 484.6 L1704.5 486.2 L1707.4 487.8 L1710.3 489.5 L1713.2 491.2 L1716.1 492.9 L1719.1 494.7 L1722.0 496.5 L1724.9 498.4 L1727.8 500.3 L1730.7 502.3 L1733.6 504.3 L1736.5 506.3 L1739.5 508.4 L1742.4 510.4 L1745.3 512.5 L1748.2 514.6 L1751.1 516.8 L1754.0 518.9 L1756.9 521.0 L1759.9 523.1 L1762.8 525.2 L1765.7 527.2 L1768.6 529.3 L1771.5 531.4 L1774.4 533.4 L1777.3 535.4 L1780.3 537.5 L1783.2 539.5 L1786.1 541.5 L1789.0 543.4 L1791.9 545.4 L1794.8 547.4 L1797.7 549.3 L1800.6 551.2 L1803.6 553.1 L1806.5 554.9 L1809.4 556.8 L1812.3 558.6 L1815.2 560.4 L1818.1 562.2 L1821.0 564.0 L1824.0 565.7 L1826.9 567.4 L1829.8 569.1 L1832.7 570.7 L1835.6 572.4 L1838.5 574.0 L1841.4 575.5 L1844.4 577.1 L1847.3 578.6 L1850.2 580.0 L1853.1 581.5 L1856.0 582.9 L1858.9 584.3 L1861.8 585.7 L1864.8 587.0 L1867.7 588.3 L1870.6 589.6 L1873.5 590.8 L1876.4 592.0 L1879.3 593.2 L1882.2 594.4 L1885.1 595.5 L1888.1 596.6 L1891.0 597.7 L1893.9 598.8 L1896.8 599.8 L1899.7 600.8 L1902.6 601.8 L1905.5 602.7 L1908.5 603.6 L1911.4 604.5 L1914.3 605.4 L1917.2 606.2 L1920.1 607.1 L1923.0 607.8 L1925.9 608.6 L1928.9 609.3 L1931.8 610.1 L1934.7 610.7 L1937.6 611.4 L1940.5 612.0 L1943.4 612.6 L1946.3 613.2 L1949.3 613.8 L1952.2 614.3 L1955.1 614.8 L1958.0 615.2 L1960.9 615.7 L1963.8 616.1 L1966.7 616.5 L1969.6 616.8 L1972.6 617.2 L1975.5 617.5 L1978.4 617.8 L1981.3 618.0 L1984.2 618.3 L1987.1 618.5 L1990.0 618.7 L1993.0 618.9 L1995.9 619.0 L1998.8 619.1 L2001.7 619.2 L2004.6 619.3 L2007.5 619.4 L2010.4 619.4 L2013.4 619.5 L2016.3 619.5 L2019.2 619.4 L2022.1 619.4 L2025.0 619.4 L2027.9 619.3 L2030.8 619.2 L2033.8 619.1 L2036.7 619.0 L2039.6 618.9 L2042.5 618.7 L2045.4 618.6 L2048.3 618.4 L2051.2 618.2 L2054.1 618.0 L2057.1 617.8 L2060.0 617.6 L2062.9 617.3 L2065.8 617.1 L2068.7 616.8 L2071.6 616.5 L2074.5 616.2 L2077.5 615.9 L2080.4 615.6 L2083.3 615.3 L2086.2 615.0 L2089.1 614.7 L2092.0 614.3 L2094.9 614.0 L2097.9 613.6 L2100.8 613.2 L2103.7 612.9 L2106.6 612.5 L2109.5 612.1 L2112.4 611.7 L2115.3 611.3 L2118.3 610.9 L2121.2 610.5 L2124.1 610.1 L2127.0 609.7 L2129.9 609.3 L2132.8 608.8 L2135.7 608.4 L2138.6 608.0 L2141.6 607.5 L2144.5 607.1 L2147.4 606.7 L2150.3 606.2 L2153.2 605.8 L2156.1 605.3 L2159.0 604.9 L2162.0 604.5 L2164.9 604.0 L2167.8 603.6 L2170.7 603.1 L2173.6 602.7 L2176.5 602.3 L2179.4 601.8 L2182.4 601.4 L2185.3 600.9 L2188.2 600.5 L2191.1 600.1 L2194.0 599.7 L2196.9 599.2 L2199.8 598.8 L2202.8 598.4 L2205.7 598.0 L2208.6 597.6 L2211.5 597.2 L2214.4 596.9 L2217.3 596.5 L2220.2 596.1 L2223.1 595.8 L2226.1 595.4 L2229.0 595.1 L2231.9 594.8 L2234.8 594.5 L2237.7 594.2 L2240.6 594.0 L2243.5 593.7 L2246.5 593.5 L2249.4 593.3 L2252.3 593.1 L2255.2 592.9 L2258.1 592.8 L2261.0 592.7 L2263.9 592.6 L2266.9 592.5 L2269.8 592.4 L2272.7 592.4 L2275.6 592.4 L2278.5 592.4 L2281.4 592.4 L2284.3 592.5 L2287.3 592.6 L2290.2 592.7 L2293.1 592.8 L2296.0 593.0 L2298.9 593.2 L2301.8 593.4 L2304.7 593.6 L2307.6 593.8 L2310.6 594.1 L2313.5 594.4 L2316.4 594.7 L2319.3 595.0 L2322.2 595.4 L2325.1 595.8 L2328.0 596.2 L2331.0 596.6 L2333.9 597.0 L2336.8 597.5 L2339.7 598.0 L2342.6 598.5 L2345.5 599.0 L2348.4 599.6 L2351.4 600.2 L2354.3 600.7 L2357.2 601.4 L2360.1 602.0 L2363.0 602.6 L2365.9 603.3 L2368.8 604.0 L2371.7 604.7 L2374.7 605.5 L2377.6 606.2 L2380.5 607.0 L2383.4 607.8 L2386.3 608.6 L2389.2 609.4 L2392.1 610.3 L2395.1 611.1 L2398.0 612.0 L2400.9 612.9 L2403.8 613.8 L2406.7 614.8 L2409.6 615.7 L2412.5 616.7 L2415.5 617.7 L2418.4 618.7 L2421.3 619.8 L2424.2 620.8 L2427.1 621.9 L2430.0 623.0 L2432.9 624.1 L2435.9 625.2 L2438.8 626.3 L2441.7 627.5 L2444.6 628.7 L2447.5 629.9 L2450.4 631.1 L2453.3 632.3 L2456.2 633.5 L2459.2 634.8 L2462.1 636.1 L2465.0 637.3 L2467.9 638.6 L2470.8 640.0 L2473.7 641.3 L2476.6 642.6 L2479.6 644.0 L2482.5 645.4 L2485.4 646.8 L2488.3 648.2 L2491.2 649.6 L2494.1 651.0 L2497.0 652.5 L2500.0 653.9 L2502.9 655.4 L2505.8 656.9 L2508.7 658.4 L2511.6 659.9 L2514.5 661.4 L2517.4 662.9 L2520.4 664.5 L2523.3 666.0 L2526.2 667.6 L2529.1 669.2 L2532.0 670.8 L2534.9 672.4 L2537.8 674.0 L2540.7 675.6 L2543.7 677.2 L2546.6 678.8 L2549.5 680.5 L2552.4 682.1 L2555.3 683.8 L2558.2 685.4 L2561.1 687.1 L2564.1 688.8 L2567.0 690.5 L2569.9 692.2 L2572.8 693.9 L2575.7 695.6 L2578.6 697.3 L2581.5 699.0 L2584.5 700.7 L2587.4 702.5 L2590.3 704.2 L2593.2 705.9 L2596.1 707.6 L2599.0 709.3 L2601.9 711.0 L2604.9 712.7 L2607.8 714.4 L2610.7 716.1 L2613.6 717.7 L2616.5 719.4 L2619.4 721.0 L2622.3 722.6 L2625.2 724.2 L2628.2 725.8 L2631.1 727.4 L2634.0 728.9 L2636.9 730.4 L2639.8 731.9 L2642.7 733.4 L2645.6 734.9 L2648.6 736.3 L2651.5 737.7 L2654.4 739.0 L2657.3 740.4" stroke="#000" stroke-width="2.3" fill="none"/>
<path d="M1025.6 441.7 L1028.5 437.3 L1031.4 433.0 L1034.3 428.8 L1037.2 424.7 L1040.2 420.7 L1043.1 416.9 L1046.0 413.2 L1048.9 409.6 L1051.8 406.1 L1054.7 402.8 L1057.6 399.6 L1060.5 396.6 L1063.5 393.6 L1066.4 390.8 L1069.3 388.1 L1072.2 385.4 L1075.1 382.9 L1078.0 380.4 L1080.9 378.0 L1083.9 375.7 L1086.8 373.4 L1089.7 371.2 L1092.6 369.1 L1095.5 367.0 L1098.4 364.9 L1101.3 362.9 L1104.3 361.0 L1107.2 359.1 L1110.1 357.3 L1113.0 355.5 L1115.9 353.8 L1118.8 352.1 L1121.7 350.5 L1124.7 348.9 L1127.6 347.4 L1130.5 345.9 L1133.4 344.5 L1136.3 343.1 L1139.2 341.8 L1142.1 340.5 L1145.0 339.3 L1148.0 338.1 L1150.9 337.0 L1153.8 335.9 L1156.7 334.9 L1159.6 333.9 L1162.5 333.0 L1165.4 332.1 L1168.4 331.2 L1171.3 330.5 L1174.2 329.7 L1177.1 329.0 L1180.0 328.3 L1182.9 327.7 L1185.8 327.1 L1188.8 326.6 L1191.7 326.1 L1194.6 325.6 L1197.5 325.2 L1200.4 324.9 L1203.3 324.6 L1206.2 324.3 L1209.2 324.0 L1212.1 323.8 L1215.0 323.6 L1217.9 323.5 L1220.8 323.4 L1223.7 323.3 L1226.6 323.3 L1229.5 323.3 L1232.5 323.3 L1235.4 323.4 L1238.3 323.5 L1241.2 323.6 L1244.1 323.7 L1247.0 323.8 L1249.9 324.0 L1252.9 324.2 L1255.8 324.4 L1258.7 324.7 L1261.6 324.9 L1264.5 325.2 L1267.4 325.5 L1270.3 325.8 L1273.3 326.1 L1276.2 326.4 L1279.1 326.7 L1282.0 327.1 L1284.9 327.4 L1287.8 327.8 L1290.7 328.1 L1293.7 328.5 L1296.6 328.9 L1299.5 329.2 L1302.4 329.6 L1305.3 330.0 L1308.2 330.4 L1311.1 330.7 L1314.0 331.1 L1317.0 331.4 L1319.9 331.8 L1322.8 332.1 L1325.7 332.5 L1328.6 332.8 L1331.5 333.1 L1334.4 333.4 L1337.4 333.7 L1340.3 334.0 L1343.2 334.3 L1346.1 334.6 L1349.0 334.9 L1351.9 335.1 L1354.8 335.4 L1357.8 335.6 L1360.7 335.9 L1363.6 336.1 L1366.5 336.3 L1369.4 336.5 L1372.3 336.7 L1375.2 336.9 L1378.2 337.1 L1381.1 337.2 L1384.0 337.4 L1386.9 337.5 L1389.8 337.7 L1392.7 337.8 L1395.6 337.9 L1398.5 338.0 L1401.5 338.0 L1404.4 338.1 L1407.3 338.2 L1410.2 338.2 L1413.1 338.2 L1416.0 338.2 L1418.9 338.2 L1421.9 338.2 L1424.8 338.2 L1427.7 338.2 L1430.6 338.1 L1433.5 338.1 L1436.4 338.0 L1439.3 337.9 L1442.3 337.8 L1445.2 337.7 L1448.1 337.6 L1451.0 337.5 L1453.9 337.4 L1456.8 337.2 L1459.7 337.1 L1462.7 336.9 L1465.6 336.7 L1468.5 336.5 L1471.4 336.3 L1474.3 336.1 L1477.2 335.9 L1480.1 335.7 L1483.0 335.5 L1486.0 335.3 L1488.9 335.1 L1491.8 334.8 L1494.7 334.6 L1497.6 334.4 L1500.5 334.1 L1503.4 333.9 L1506.4 333.7 L1509.3 333.4 L1512.2 333.2 L1515.1 333.0 L1518.0 332.8 L1520.9 332.6 L1523.8 332.4 L1526.8 332.1 L1529.7 332.0 L1532.6 331.8 L1535.5 331.6 L1538.4 331.4 L1541.3 331.3 L1544.2 331.2 L1547.2 331.0 L1550.1 330.9 L1553.0 330.9 L1555.9 330.8 L1558.8 330.7 L1561.7 330.7 L1564.6 330.7 L1567.5 330.8 L1570.5 330.8 L1573.4 330.9 L1576.3 331.0 L1579.2 331.1 L1582.1 331.3 L1585.0 331.5 L1587.9 331.7 L1590.9 332.0 L1593.8 332.3 L1596.7 332.7 L1599.6 333.0 L1602.5 333.5 L1605.4 333.9 L1608.3 334.4 L1611.3 335.0 L1614.2 335.5 L1617.1 336.2 L1620.0 336.9 L1622.9 337.6 L1625.8 338.4 L1628.7 339.2 L1631.6 340.1 L1634.6 341.0 L1637.5 342.0 L1640.4 343.1 L1643.3 344.1 L1646.2 345.3 L1649.1 346.4 L1652.0 347.5 L1655.0 348.7 L1657.9 349.7 L1660.8 350.8 L1663.7 351.8 L1666.6 352.8 L1669.5 353.6 L1672.4 354.4 L1675.4 355.2 L1678.3 355.9 L1681.2 356.6 L1684.1 357.3 L1687.0 358.0 L1689.9 358.7 L1692.8 359.4 L1695.8 360.2 L1698.7 361.0 L1701.6 361.9 L1704.5 362.8 L1707.4 363.8 L1710.3 364.9 L1713.2 366.0 L1716.1 367.1 L1719.1 368.3 L1722.0 369.6 L1724.9 370.8 L1727.8 372.1 L1730.7 373.5 L1733.6 374.9 L1736.5 376.3 L1739.5 377.8 L1742.4 379.3 L1745.3 380.8 L1748.2 382.3 L1751.1 383.9 L1754.0 385.5 L1756.9 387.1 L1759.9 388.8 L1762.8 390.4 L1765.7 392.1 L1768.6 393.8 L1771.5 395.5 L1774.4 397.2 L1777.3 399.0 L1780.3 400.7 L1783.2 402.4 L1786.1 404.2 L1789.0 405.9 L1791.9 407.7 L1794.8 409.4 L1797.7 411.2 L1800.6 412.9 L1803.6 414.7 L1806.5 416.4 L1809.4 418.1 L1812.3 419.8 L1815.2 421.5 L1818.1 423.2 L1821.0 424.9 L1824.0 426.5 L1826.9 428.1 L1829.8 429.7 L1832.7 431.3 L1835.6 432.9 L1838.5 434.4 L1841.4 435.9 L1844.4 437.3 L1847.3 438.8 L1850.2 440.2 L1853.1 441.5 L1856.0 442.9 L1858.9 444.2 L1861.8 445.4 L1864.8 446.6 L1867.7 447.8 L1870.6 448.9 L1873.5 450.0 L1876.4 451.1 L1879.3 452.1 L1882.2 453.1 L1885.1 454.0 L1888.1 454.8 L1891.0 455.7 L1893.9 456.4 L1896.8 457.2 L1899.7 457.8 L1902.6 458.4 L1905.5 459.0 L1908.5 459.5 L1911.4 460.0 L1914.3 460.4 L1917.2 460.8 L1920.1 461.1 L1923.0 461.4 L1925.9 461.6 L1928.9 461.8 L1931.8 462.0 L1934.7 462.1 L1937.6 462.2 L1940.5 462.2 L1943.4 462.2 L1946.3 462.2 L1949.3 462.1 L1952.2 462.0 L1955.1 461.9 L1958.0 461.8 L1960.9 461.6 L1963.8 461.4 L1966.7 461.1 L1969.6 460.9 L1972.6 460.6 L1975.5 460.3 L1978.4 460.0 L1981.3 459.7 L1984.2 459.4 L1987.1 459.0 L1990.0 458.7 L1993.0 458.3 L1995.9 458.0 L1998.8 457.6 L2001.7 457.3 L2004.6 457.0 L2007.5 456.6 L2010.4 456.3 L2013.4 456.0 L2016.3 455.7 L2019.2 455.4 L2022.1 455.2 L2025.0 454.9 L2027.9 454.7 L2030.8 454.4 L2033.8 454.2 L2036.7 454.0 L2039.6 453.7 L2042.5 453.5 L2045.4 453.3 L2048.3 453.0 L2051.2 452.8 L2054.1 452.5 L2057.1 452.3 L2060.0 452.0 L2062.9 451.7 M2164.9 428.6 L2167.8 427.8 L2170.7 427.0 L2173.6 426.2 L2176.5 425.4 L2179.4 424.6 L2182.4 423.8 L2185.3 423.0 L2188.2 422.2 L2191.1 421.5 L2194.0 420.7 L2196.9 420.0 L2199.8 419.3 L2202.8 418.6 L2205.7 417.9 L2208.6 417.2 L2211.5 416.5 L2214.4 415.9 L2217.3 415.3 L2220.2 414.7 L2223.1 414.1 L2226.1 413.6 L2229.0 413.1 L2231.9 412.6 L2234.8 412.1 L2237.7 411.7 L2240.6 411.3 L2243.5 411.0 L2246.5 410.6 L2249.4 410.3 L2252.3 410.1 L2255.2 409.9 L2258.1 409.7 L2261.0 409.5 L2263.9 409.4 L2266.9 409.4 L2269.8 409.3 L2272.7 409.4 L2275.6 409.4 L2278.5 409.5 L2281.4 409.7 L2284.3 409.8 L2287.3 410.0 L2290.2 410.3 L2293.1 410.5 L2296.0 410.8 L2298.9 411.1 L2301.8 411.5 L2304.7 411.8 L2307.6 412.2 L2310.6 412.6 L2313.5 413.0 L2316.4 413.4 L2319.3 413.8 L2322.2 414.3 L2325.1 414.7 L2328.0 415.2 L2331.0 415.6 L2333.9 416.1 L2336.8 416.6 L2339.7 417.0 L2342.6 417.5 L2345.5 417.9 L2348.4 418.4 L2351.4 418.8 L2354.3 419.2 L2357.2 419.6 L2360.1 420.0 L2363.0 420.4 L2365.9 420.8 L2368.8 421.1 L2371.7 421.4 L2374.7 421.8 L2377.6 422.1 L2380.5 422.4 L2383.4 422.7 L2386.3 423.0 L2389.2 423.3 L2392.1 423.6 L2395.1 424.0 L2398.0 424.3 L2400.9 424.7 L2403.8 425.2 L2406.7 425.6 L2409.6 426.1 L2412.5 426.6 L2415.5 427.2 L2418.4 427.9 L2421.3 428.6 L2424.2 429.3 L2427.1 430.1 L2430.0 431.0 L2432.9 431.9 L2435.9 432.9 L2438.8 433.9 L2441.7 434.9 L2444.6 435.9 L2447.5 436.9 L2450.4 437.9 L2453.3 438.9 L2456.2 439.9 L2459.2 440.9 L2462.1 441.8 L2465.0 442.8 L2467.9 443.7 L2470.8 444.6 L2473.7 445.5 L2476.6 446.4 L2479.6 447.2 L2482.5 448.1 L2485.4 449.0 L2488.3 449.9 L2491.2 450.8 L2494.1 451.6 L2497.0 452.5 L2500.0 453.5 L2502.9 454.4 L2505.8 455.3 L2508.7 456.3 L2511.6 457.2 L2514.5 458.2 L2517.4 459.2 L2520.4 460.3 L2523.3 461.3 L2526.2 462.4 L2529.1 463.5 L2532.0 464.7 L2534.9 465.9 L2537.8 467.1 L2540.7 468.3 L2543.7 469.5 L2546.6 470.8 L2549.5 472.2 L2552.4 473.5 L2555.3 474.9 L2558.2 476.4 L2561.1 477.8 L2564.1 479.3 L2567.0 480.9 L2569.9 482.5 L2572.8 484.1 L2575.7 485.8 L2578.6 487.5 L2581.5 489.2 L2584.5 491.0 L2587.4 492.7 L2590.3 494.5 L2593.2 496.3 L2596.1 498.1 L2599.0 499.9 L2601.9 501.7 L2604.9 503.5 L2607.8 505.3 L2610.7 507.0 L2613.6 508.8 L2616.5 510.5 L2619.4 512.1 L2622.3 513.8 L2625.2 515.4 L2628.2 516.9 L2631.1 518.4 L2634.0 519.8 L2636.9 521.2 L2639.8 522.5 L2642.7 523.8 L2645.6 525.0 L2648.6 526.1 L2651.5 527.1 L2654.4 528.0 L2657.3 528.8" stroke="#0000ff" stroke-width="4.5" fill="none"/>
<path d="M1025.6 460.4 L1028.5 456.6 L1031.4 452.9 L1034.3 449.4 L1037.2 446.1 L1040.2 442.9 L1043.1 439.9 L1046.0 437.0 L1048.9 434.2 L1051.8 431.6 L1054.7 429.1 L1057.6 426.8 L1060.5 424.5 L1063.5 422.4 L1066.4 420.4 L1069.3 418.5 L1072.2 416.7 L1075.1 414.9 L1078.0 413.3 L1080.9 411.7 L1083.9 410.2 L1086.8 408.8 L1089.7 407.5 L1092.6 406.2 L1095.5 405.0 L1098.4 403.9 L1101.3 402.8 L1104.3 401.8 L1107.2 400.8 L1110.1 399.9 L1113.0 399.1 L1115.9 398.3 L1118.8 397.6 L1121.7 396.9 L1124.7 396.3 L1127.6 395.8 L1130.5 395.3 L1133.4 394.8 L1136.3 394.4 L1139.2 394.0 L1142.1 393.7 L1145.0 393.4 L1148.0 393.2 L1150.9 393.0 L1153.8 392.8 L1156.7 392.7 L1159.6 392.6 L1162.5 392.6 L1165.4 392.5 L1168.4 392.6 L1171.3 392.6 L1174.2 392.7 L1177.1 392.8 L1180.0 392.9 L1182.9 393.1 L1185.8 393.3 L1188.8 393.5 L1191.7 393.7 L1194.6 393.9 L1197.5 394.2 L1200.4 394.5 L1203.3 394.8 L1206.2 395.1 L1209.2 395.4 L1212.1 395.7 L1215.0 396.1 L1217.9 396.5 L1220.8 396.9 L1223.7 397.3 L1226.6 397.7 L1229.5 398.1 L1232.5 398.6 L1235.4 399.1 L1238.3 399.6 L1241.2 400.1 L1244.1 400.6 L1247.0 401.2 L1249.9 401.7 L1252.9 402.3 L1255.8 402.9 L1258.7 403.5 L1261.6 404.2 L1264.5 404.9 L1267.4 405.5 L1270.3 406.2 L1273.3 406.9 L1276.2 407.6 L1279.1 408.4 L1282.0 409.1 L1284.9 409.8 L1287.8 410.5 L1290.7 411.3 L1293.7 412.0 L1296.6 412.7 L1299.5 413.4 L1302.4 414.1 L1305.3 414.8 L1308.2 415.5 L1311.1 416.2 L1314.0 416.8 L1317.0 417.5 L1319.9 418.1 L1322.8 418.6 L1325.7 419.2 L1328.6 419.8 L1331.5 420.3 L1334.4 420.8 L1337.4 421.3 L1340.3 421.8 L1343.2 422.3 L1346.1 422.8 L1349.0 423.2 L1351.9 423.7 L1354.8 424.1 L1357.8 424.6 L1360.7 425.0 L1363.6 425.5 L1366.5 425.9 L1369.4 426.3 L1372.3 426.8 L1375.2 427.2 L1378.2 427.7 L1381.1 428.1 L1384.0 428.6 L1386.9 429.0 L1389.8 429.5 L1392.7 429.9 L1395.6 430.4 L1398.5 430.8 L1401.5 431.3 L1404.4 431.7 L1407.3 432.1 L1410.2 432.6 L1413.1 433.0 L1416.0 433.4 L1418.9 433.8 L1421.9 434.2 L1424.8 434.6 L1427.7 435.0 L1430.6 435.4 L1433.5 435.8 L1436.4 436.1 L1439.3 436.5 L1442.3 436.9 L1445.2 437.3 L1448.1 437.7 L1451.0 438.0 L1453.9 438.4 L1456.8 438.8 L1459.7 439.2 L1462.7 439.5 L1465.6 439.9 L1468.5 440.3 L1471.4 440.7 L1474.3 441.1 L1477.2 441.5 L1480.1 441.9 L1483.0 442.3 L1486.0 442.7 L1488.9 443.1 L1491.8 443.5 L1494.7 443.9 L1497.6 444.4 L1500.5 444.8 L1503.4 445.2 L1506.4 445.7 L1509.3 446.2 L1512.2 446.6 L1515.1 447.1 L1518.0 447.6 L1520.9 448.1 L1523.8 448.6 L1526.8 449.1 L1529.7 449.7 L1532.6 450.2 L1535.5 450.8 L1538.4 451.3 L1541.3 451.9 L1544.2 452.5 L1547.2 453.1 L1550.1 453.8 L1553.0 454.4 L1555.9 455.1 L1558.8 455.7 L1561.7 456.4 L1564.6 457.1 L1567.5 457.9 L1570.5 458.6 L1573.4 459.4 L1576.3 460.2 L1579.2 461.0 L1582.1 461.8 L1585.0 462.6 L1587.9 463.5 L1590.9 464.4 L1593.8 465.3 L1596.7 466.2 L1599.6 467.1 L1602.5 468.1 L1605.4 469.1 L1608.3 470.1 L1611.3 471.2 L1614.2 472.2 L1617.1 473.3 L1620.0 474.4 L1622.9 475.6 L1625.8 476.7 L1628.7 477.9 L1631.6 479.0 L1634.6 480.2 L1637.5 481.4 L1640.4 482.7 L1643.3 483.9 L1646.2 485.1 L1649.1 486.4 L1652.0 487.6 L1655.0 488.9 L1657.9 490.2 L1660.8 491.5 L1663.7 492.7 L1666.6 494.0 L1669.5 495.3 L1672.4 496.6 L1675.4 497.9 L1678.3 499.2 L1681.2 500.5 L1684.1 501.8 L1687.0 503.2 L1689.9 504.5 L1692.8 505.9 L1695.8 507.3 L1698.7 508.8 L1701.6 510.2 L1704.5 511.7 L1707.4 513.2 L1710.3 514.8 L1713.2 516.3 L1716.1 518.0 L1719.1 519.6 L1722.0 521.3 L1724.9 523.1 L1727.8 524.9 L1730.7 526.7 L1733.6 528.6 L1736.5 530.6 L1739.5 532.5 L1742.4 534.5 L1745.3 536.5 L1748.2 538.6 L1751.1 540.7 L1754.0 542.8 L1756.9 544.9 L1759.9 547.0 L1762.8 549.2 L1765.7 551.4 L1768.6 553.5 L1771.5 555.7 L1774.4 557.9 L1777.3 560.0 L1780.3 562.2 L1783.2 564.4 L1786.1 566.5 L1789.0 568.7 L1791.9 570.8 L1794.8 572.9 L1797.7 575.0 L1800.6 577.0 L1803.6 579.1 L1806.5 581.1 L1809.4 583.0 L1812.3 585.0 L1815.2 586.8 L1818.1 588.7 L1821.0 590.5 L1824.0 592.3 L1826.9 594.1 L1829.8 595.8 L1832.7 597.5 L1835.6 599.1 L1838.5 600.7 L1841.4 602.3 L1844.4 603.9 L1847.3 605.5 L1850.2 607.0 L1853.1 608.5 L1856.0 610.0 L1858.9 611.4 L1861.8 612.9 L1864.8 614.3 L1867.7 615.7 L1870.6 617.1 L1873.5 618.5 L1876.4 619.8 L1879.3 621.2 L1882.2 622.5 L1885.1 623.8 L1888.1 625.1 L1891.0 626.4 L1893.9 627.6 L1896.8 628.8 L1899.7 630.0 L1902.6 631.2 L1905.5 632.4 L1908.5 633.5 L1911.4 634.6 L1914.3 635.6 L1917.2 636.7 L1920.1 637.7 L1923.0 638.6 L1925.9 639.6 L1928.9 640.4 L1931.8 641.3 L1934.7 642.1 L1937.6 642.9 L1940.5 643.7 L1943.4 644.4 L1946.3 645.0 L1949.3 645.7 L1952.2 646.3 L1955.1 646.9 L1958.0 647.4 L1960.9 647.9 L1963.8 648.4 L1966.7 648.9 L1969.6 649.3 L1972.6 649.7 L1975.5 650.1 L1978.4 650.4 L1981.3 650.8 L1984.2 651.0 L1987.1 651.3 L1990.0 651.6 L1993.0 651.8 L1995.9 652.0 L1998.8 652.1 L2001.7 652.3 L2004.6 652.4 L2007.5 652.5 L2010.4 652.6 L2013.4 652.6 L2016.3 652.7 L2019.2 652.7 L2022.1 652.7 L2025.0 652.7 L2027.9 652.7 L2030.8 652.6 L2033.8 652.6 L2036.7 652.5 L2039.6 652.4 L2042.5 652.3 L2045.4 652.2 L2048.3 652.0 L2051.2 651.9 L2054.1 651.7 L2057.1 651.6 L2060.0 651.4 L2062.9 651.2 M2164.9 640.6 L2167.8 640.3 L2170.7 640.0 L2173.6 639.6 L2176.5 639.3 L2179.4 639.0 L2182.4 638.7 L2185.3 638.4 L2188.2 638.1 L2191.1 637.8 L2194.0 637.6 L2196.9 637.3 L2199.8 637.0 L2202.8 636.8 L2205.7 636.5 L2208.6 636.3 L2211.5 636.1 L2214.4 635.8 L2217.3 635.6 L2220.2 635.4 L2223.1 635.2 L2226.1 635.1 L2229.0 634.9 L2231.9 634.7 L2234.8 634.6 L2237.7 634.5 L2240.6 634.4 L2243.5 634.3 L2246.5 634.2 L2249.4 634.1 L2252.3 634.0 L2255.2 634.0 L2258.1 634.0 L2261.0 633.9 L2263.9 633.9 L2266.9 634.0 L2269.8 634.0 L2272.7 634.0 L2275.6 634.1 L2278.5 634.2 L2281.4 634.3 L2284.3 634.4 L2287.3 634.6 L2290.2 634.7 L2293.1 634.9 L2296.0 635.1 L2298.9 635.3 L2301.8 635.6 L2304.7 635.8 L2307.6 636.1 L2310.6 636.4 L2313.5 636.8 L2316.4 637.1 L2319.3 637.5 L2322.2 637.9 L2325.1 638.3 L2328.0 638.7 L2331.0 639.2 L2333.9 639.7 L2336.8 640.2 L2339.7 640.7 L2342.6 641.3 L2345.5 641.9 L2348.4 642.5 L2351.4 643.2 L2354.3 643.8 L2357.2 644.5 L2360.1 645.3 L2363.0 646.0 L2365.9 646.8 L2368.8 647.6 L2371.7 648.4 L2374.7 649.3 L2377.6 650.2 L2380.5 651.1 L2383.4 652.0 L2386.3 653.0 L2389.2 654.0 L2392.1 655.0 L2395.1 656.1 L2398.0 657.1 L2400.9 658.2 L2403.8 659.3 L2406.7 660.4 L2409.6 661.6 L2412.5 662.8 L2415.5 664.0 L2418.4 665.2 L2421.3 666.4 L2424.2 667.7 L2427.1 668.9 L2430.0 670.2 L2432.9 671.5 L2435.9 672.8 L2438.8 674.2 L2441.7 675.5 L2444.6 676.9 L2447.5 678.2 L2450.4 679.6 L2453.3 681.0 L2456.2 682.5 L2459.2 683.9 L2462.1 685.3 L2465.0 686.8 L2467.9 688.3 L2470.8 689.7 L2473.7 691.2 L2476.6 692.7 L2479.6 694.2 L2482.5 695.8 L2485.4 697.3 L2488.3 698.9 L2491.2 700.4 L2494.1 702.0 L2497.0 703.6 L2500.0 705.1 L2502.9 706.7 L2505.8 708.3 L2508.7 710.0 L2511.6 711.6 L2514.5 713.2 L2517.4 714.9 L2520.4 716.5 L2523.3 718.2 L2526.2 719.9 L2529.1 721.5 L2532.0 723.2 L2534.9 724.9 L2537.8 726.6 L2540.7 728.3 L2543.7 730.0 L2546.6 731.8 L2549.5 733.5 L2552.4 735.2 L2555.3 737.0 L2558.2 738.7 L2561.1 740.5 L2564.1 742.2 L2567.0 744.0 L2569.9 745.8 L2572.8 747.6 L2575.7 749.3 L2578.6 751.1 L2581.5 752.9 L2584.5 754.7 L2587.4 756.5 L2590.3 758.2 L2593.2 760.0 L2596.1 761.8 L2599.0 763.5 L2601.9 765.2 L2604.9 766.9 L2607.8 768.6 L2610.7 770.3 L2613.6 772.0 L2616.5 773.6 L2619.4 775.2 L2622.3 776.8 L2625.2 778.3 L2628.2 779.8 L2631.1 781.3 L2634.0 782.8 L2636.9 784.2 L2639.8 785.5 L2642.7 786.9 L2645.6 788.2 L2648.6 789.4 L2651.5 790.6 L2654.4 791.8 L2657.3 792.9" stroke="#0000ff" stroke-width="4.5" fill="none"/>
<path d="M151.4 480.1 L154.4 480.0 L157.3 479.8 L160.2 479.5 L163.1 479.0 L166.0 478.5 L168.9 477.9 L171.8 477.2 L174.8 476.4 L177.7 475.6 L180.6 474.7 L183.5 473.7 L186.4 472.6 L189.3 471.5 L192.2 470.4 L195.2 469.2 L198.1 467.9 L201.0 466.6 L203.9 465.3 L206.8 464.0 L209.7 462.6 L212.6 461.2 L215.6 459.8 L218.5 458.4 L221.4 457.0 L224.3 455.6 L227.2 454.3 L230.1 452.9 L233.0 451.5 L235.9 450.2 L238.9 448.9 L241.8 447.6 L244.7 446.3 L247.6 445.1 L250.5 444.0 L253.4 442.9 L256.3 441.8 L259.3 440.8 L262.2 439.9 L265.1 439.0 L268.0 438.1 L270.9 437.2 L273.8 436.3 L276.7 435.5 L279.7 434.6 L282.6 433.8 L285.5 432.9 L288.4 432.0 L291.3 431.0 L294.2 430.1 L297.1 429.1 L300.1 428.0 L303.0 426.9 L305.9 425.7 L308.8 424.4 L311.7 423.0 L314.6 421.6 L317.5 420.1 L320.4 418.4 L323.4 416.7 L326.3 414.8 L329.2 412.9 L332.1 410.8 L335.0 408.5 L337.9 406.1 L340.8 403.6 L343.8 400.9 L346.7 398.1 L349.6 395.1 L352.5 392.1 L355.4 388.9 L358.3 385.7 L361.2 382.5 L364.2 379.2 L367.1 375.9 L370.0 372.6 L372.9 369.4 L375.8 366.1 L378.7 363.0 L381.6 359.9 L384.6 356.9 L387.5 354.1 L390.4 351.3 L393.3 348.7 L396.2 346.2 L399.1 343.8 L402.0 341.5 L404.9 339.3 L407.9 337.2 L410.8 335.3 L413.7 333.4 L416.6 331.7 L419.5 330.0 L422.4 328.5 L425.3 327.0 L428.3 325.7 L431.2 324.5 L434.1 323.3 L437.0 322.2 L439.9 321.2 L442.8 320.2 L445.7 319.2 L448.7 318.2 L451.6 317.2 L454.5 316.1 L457.4 315.0 L460.3 313.9 L463.2 312.6 L466.1 311.2 L469.1 309.7 L472.0 308.1 L474.9 306.3 L477.8 304.4 L480.7 302.2 L483.6 299.8 L486.5 297.2 L489.4 294.2 L492.4 291.0 L495.3 287.5 L498.2 283.5 L501.1 279.3 L504.0 274.6 L506.9 269.6 L509.8 264.3 L512.8 258.7 L515.7 252.9 L518.6 246.9 L521.5 240.8 L524.4 234.7 L527.3 228.5 L530.2 222.3 L533.2 216.2 L536.1 210.3 L539.0 204.4 L541.9 198.8 L544.8 193.5 L547.7 188.4 L550.6 183.8 L553.6 179.5 L556.5 175.6 L559.4 172.3 L562.3 169.4 L565.2 167.1 L568.1 165.3 L571.0 163.9 L573.9 162.9 L576.9 162.3 L579.8 162.1 L582.7 162.2 L585.6 162.6 L588.5 163.2 L591.4 164.1 L594.3 165.2 L597.3 166.4 L600.2 167.8 L603.1 169.3 L606.0 171.0 L608.9 172.8 L611.8 174.7 L614.7 176.6 L617.7 178.7 L620.6 180.8 L623.5 182.9 L626.4 185.1 L629.3 187.3 L632.2 189.5 L635.1 191.7 L638.1 193.8 L641.0 196.0 L643.9 198.0 L646.8 200.1 L649.7 202.0 L652.6 203.9 L655.5 205.7 L658.4 207.4 L661.4 209.0 L664.3 210.6 L667.2 212.2 L670.1 213.6 L673.0 215.0 L675.9 216.4 L678.8 217.7 L681.8 218.9 L684.7 220.2 L687.6 221.4 L690.5 222.5 L693.4 223.7 L696.3 224.9 L699.2 226.1 L702.2 227.3 L705.1 228.5 L708.0 229.8 L710.9 231.1 L713.8 232.5 L716.7 233.9 L719.6 235.5 L722.6 237.1 L725.5 238.8 L728.4 240.6 L731.3 242.5 L734.2 244.5 L737.1 246.7 L740.0 248.9 L742.9 251.3 L745.9 253.8 L748.8 256.4 L751.7 259.0 L754.6 261.8 L757.5 264.5 L760.4 267.3 L763.3 270.2 L766.3 273.0 L769.2 275.9 L772.1 278.7 L775.0 281.6 L777.9 284.3 L780.8 287.0 L783.7 289.6 L786.7 292.2 L789.6 294.6 L792.5 296.8 L795.4 298.9 L798.3 300.9 L801.2 302.8 L804.1 304.5 L807.1 306.2 L810.0 307.8 L812.9 309.4 L815.8 310.9 L818.7 312.3 L821.6 313.8 L824.5 315.3 L827.4 316.8 L830.4 318.4 L833.3 320.0 L836.2 321.8 L839.1 323.6 L842.0 325.6 L844.9 327.8 L847.8 330.0 L850.8 332.3 L853.7 334.7 L856.6 337.2 L859.5 339.8 L862.4 342.4 L865.3 345.1 L868.2 347.9 L871.2 350.7 L874.1 353.6 L877.0 356.5 L879.9 359.4 L882.8 362.3 L885.7 365.2 L888.6 368.2 L891.5 371.1 L894.5 374.0 L897.4 376.9 L900.3 379.8 L903.2 382.7 L906.1 385.5 L909.0 388.2 L911.9 390.9 L914.9 393.6 L917.8 396.1 L920.7 398.6 L923.6 401.0 L926.5 403.4 L929.4 405.6 L932.3 407.7 L935.3 409.7 L938.2 411.5 L941.1 413.3 L944.0 414.9 L946.9 416.4 L949.8 417.7 L952.7 418.8 L955.7 419.8 L958.6 420.6 L961.5 421.3 L964.4 421.7 L967.3 422.0" stroke="#ff0000" stroke-width="2.2" fill="none" stroke-linejoin="round"/>
<text transform="translate(2083.5 343.5) scale(1 1.04)" font-size="41.67px" fill="#000">5%</text>
<text transform="translate(2072.5 458.5) scale(1 1.04)" font-size="41.67px" fill="#0000ff">15%</text>
<text transform="translate(2072.5 661.0) scale(1 1.04)" font-size="41.67px" fill="#0000ff">85%</text>
<text transform="translate(2072.5 699.0) scale(1 1.04)" font-size="41.67px" fill="#000">95%</text>
<path d="M209.7 67.0 V955.0 M268.0 67.0 V955.0 M326.3 67.0 V955.0 M384.6 67.0 V955.0 M442.8 67.0 V955.0 M501.1 67.0 V955.0 M559.4 67.0 V955.0 M617.7 67.0 V955.0 M675.9 67.0 V955.0 M734.2 67.0 V955.0 M792.5 67.0 V955.0 M850.8 67.0 V955.0 M909.0 67.0 V955.0 M967.3 67.0 V955.0 M1083.9 67.0 V955.0 M1142.1 67.0 V955.0 M1200.4 67.0 V955.0 M1258.7 67.0 V955.0 M1317.0 67.0 V955.0 M1375.2 67.0 V955.0 M1433.5 67.0 V955.0 M1491.8 67.0 V955.0 M1550.1 67.0 V955.0 M1608.3 67.0 V955.0 M1666.6 67.0 V955.0 M1724.9 67.0 V955.0 M1783.2 67.0 V955.0 M1841.4 67.0 V955.0 M1899.7 67.0 V955.0 M1958.0 67.0 V955.0 M2016.3 67.0 V955.0 M2074.5 67.0 V955.0 M2132.8 67.0 V955.0 M2191.1 67.0 V955.0 M2249.4 67.0 V955.0 M2307.6 67.0 V955.0 M2365.9 67.0 V955.0 M2424.2 67.0 V955.0 M2482.5 67.0 V955.0 M2540.7 67.0 V955.0 M2599.0 67.0 V955.0 M148.0 895.6 H2657.3 M148.0 836.3 H2657.3 M148.0 776.9 H2657.3 M148.0 717.5 H2657.3 M148.0 598.8 H2657.3 M148.0 539.4 H2657.3 M148.0 480.1 H2657.3 M148.0 420.7 H2657.3 M148.0 302.0 H2657.3 M148.0 242.6 H2657.3 M148.0 183.2 H2657.3 M148.0 123.9 H2657.3" stroke="rgba(38,38,38,0.27)" stroke-width="4" stroke-dasharray="4 3.95" fill="none"/>
<line x1="151.4" x2="2657.3" y1="658.2" y2="658.2" stroke="#262626" stroke-opacity="0.75" stroke-width="2"/>
<line x1="151.4" x2="2657.3" y1="361.3" y2="361.3" stroke="#262626" stroke-opacity="0.75" stroke-width="2"/>
<path d="M559.4 64.5 v27 M559.4 955.0 v-27 M1083.9 64.5 v27 M1083.9 955.0 v-27 M1258.7 64.5 v27 M1258.7 955.0 v-27 M1433.5 64.5 v27 M1433.5 955.0 v-27 M1666.6 64.5 v27 M1666.6 955.0 v-27 M1899.7 64.5 v27 M1899.7 955.0 v-27 M2307.6 64.5 v27 M2307.6 955.0 v-27 M151.4 658.2 h27 M2657.3 658.2 h-27 M151.4 361.3 h27 M2657.3 361.3 h-27" stroke="#262626" stroke-width="4.2" fill="none"/>
<rect x="151.45" y="64.50" width="2505.85" height="890.50" fill="none" stroke="#262626" stroke-width="4.2"/>
<line x1="1025.6" x2="1025.6" y1="64.5" y2="955.0" stroke="#000" stroke-width="4.2"/>
<text transform="translate(970.3 106.0) scale(1 1.02)" font-size="41.67px" text-anchor="end" font-weight="bold" fill="#000">Observations</text>
<text transform="translate(1083.0 106.0) scale(1 1.02)" font-size="41.67px" font-weight="bold" fill="#000">Prévisions</text>
<g stroke="#000" fill="none" stroke-width="1.6">
<path d="M996 91.3H1057 M996 99.6H1057"/>
<path stroke-width="1.9" d="M1000.7 84 Q994.9 92.4 987.3 95.4 Q994.9 98.4 1000.7 106.8 M1052.3 84 Q1058.1 92.4 1065.7 95.4 Q1058.1 98.4 1052.3 106.8"/>
</g>
<text transform="translate(151.5 42.5) scale(1 1.04)" font-size="55px" font-weight="bold" fill="#000">TROIS-RIVIERES (#03360)</text>
<text transform="translate(39.5 510.8) rotate(-90) scale(1 1.03)" font-size="49.7px" text-anchor="middle" font-weight="bold" fill="#262626">Niveau d'eau [m p/r ZC]</text>
<text transform="translate(133.0 975.3) scale(1 1.04)" font-size="50px" text-anchor="end" fill="#262626">0.0</text>
<text transform="translate(3468.7 975.3) scale(1 1.04)" font-size="50px" fill="#262626">0.0</text>
<text transform="translate(133.0 678.5) scale(1 1.04)" font-size="50px" text-anchor="end" fill="#262626">0.5</text>
<text transform="translate(3468.7 678.5) scale(1 1.04)" font-size="50px" fill="#262626">0.5</text>
<text transform="translate(133.0 381.6) scale(1 1.04)" font-size="50px" text-anchor="end" fill="#262626">1.0</text>
<text transform="translate(3468.7 381.6) scale(1 1.04)" font-size="50px" fill="#262626">1.0</text>
<text transform="translate(133.0 84.8) scale(1 1.04)" font-size="50px" text-anchor="end" fill="#262626">1.5</text>
<text transform="translate(3468.7 84.8) scale(1 1.04)" font-size="50px" fill="#262626">1.5</text>
<text transform="translate(151.4 1015.5) scale(1 1.02)" font-size="41.67px" text-anchor="middle" fill="#262626">22 juin</text>
<text transform="translate(559.4 1015.5) scale(1 1.02)" font-size="41.67px" text-anchor="middle" fill="#262626">29 juin</text>
<text transform="translate(1083.9 1015.5) scale(1 1.02)" font-size="41.67px" text-anchor="middle" fill="#262626">08 juil.</text>
<text transform="translate(1258.7 1015.5) scale(1 1.02)" font-size="41.67px" text-anchor="middle" fill="#262626">11 juil.</text>
<text transform="translate(1433.5 1015.5) scale(1 1.02)" font-size="41.67px" text-anchor="middle" fill="#262626">14 juil.</text>
<text transform="translate(1666.6 1015.5) scale(1 1.02)" font-size="41.67px" text-anchor="middle" fill="#262626">18 juil.</text>
<text transform="translate(1899.7 1015.5) scale(1 1.02)" font-size="41.67px" text-anchor="middle" fill="#262626">22 juil.</text>
<text transform="translate(2307.6 1015.5) scale(1 1.02)" font-size="41.67px" text-anchor="middle" fill="#262626">29 juil.</text>
<rect x="2683.5" y="64.5" width="110.2" height="890.5" fill="#b3f9fc"/>
<rect x="2716.3" y="302.8" width="44.6" height="119.6" fill="#ebebeb"/>
<rect x="2716.3" y="302.8" width="44.6" height="119.6" fill="none" stroke="#000" stroke-width="2" stroke-dasharray="8 8"/>
<path d="M2722.6 315.5 h32.0 l-16.0 27.5Z" fill="#0000ff"/>
<rect x="2727.6" y="388.5" width="22.0" height="22.0" fill="#000"/>
<path d="M2738.6 394.0 l16.0 27.5 h-32.0Z" fill="#0000ff"/>
<path d="M2684.0 895.6 H2793.7 M2684.0 836.3 H2793.7 M2684.0 776.9 H2793.7 M2684.0 717.5 H2793.7 M2684.0 598.8 H2793.7 M2684.0 539.4 H2793.7 M2684.0 480.1 H2793.7 M2684.0 420.7 H2793.7 M2684.0 302.0 H2793.7 M2684.0 242.6 H2793.7 M2684.0 183.2 H2793.7 M2684.0 123.9 H2793.7" stroke="rgba(38,38,38,0.27)" stroke-width="4" stroke-dasharray="4 3.95" fill="none"/>
<line x1="2683.5" x2="2793.7" y1="658.2" y2="658.2" stroke="#262626" stroke-opacity="0.75" stroke-width="2"/>
<line x1="2683.5" x2="2793.7" y1="361.3" y2="361.3" stroke="#262626" stroke-opacity="0.75" stroke-width="2"/>
<path d="M2738.6 64.5 v10 M2738.6 955.0 v-10 M2683.5 658.2 h10 M2793.7 658.2 h-10 M2683.5 361.3 h10 M2793.7 361.3 h-10" stroke="#262626" stroke-width="4.2" fill="none"/>
<rect x="2683.50" y="64.50" width="110.20" height="890.50" fill="none" stroke="#262626" stroke-width="4.2"/>
<text transform="translate(2689.7 1005.3) scale(1 1.02)" font-size="33.33px" fill="#262626">08 juil.</text>
<text transform="translate(2689.7 1051.0) scale(1 1.02)" font-size="33.33px" fill="#262626">10 juil.</text>
<rect x="2847.8" y="266.3" width="44.6" height="187.7" fill="#ebebeb"/>
<rect x="2847.8" y="266.3" width="44.6" height="187.7" fill="none" stroke="#000" stroke-width="2" stroke-dasharray="8 8"/>
<path d="M2854.1 315.0 h32.0 l-16.0 27.5Z" fill="#0000ff"/>
<rect x="2859.1" y="388.5" width="22.0" height="22.0" fill="#000"/>
<path d="M2870.1 407.7 l16.0 27.5 h-32.0Z" fill="#0000ff"/>
<path d="M2815.1 895.6 H2925.7 M2815.1 836.3 H2925.7 M2815.1 776.9 H2925.7 M2815.1 717.5 H2925.7 M2815.1 598.8 H2925.7 M2815.1 539.4 H2925.7 M2815.1 480.1 H2925.7 M2815.1 420.7 H2925.7 M2815.1 302.0 H2925.7 M2815.1 242.6 H2925.7 M2815.1 183.2 H2925.7 M2815.1 123.9 H2925.7" stroke="rgba(38,38,38,0.27)" stroke-width="4" stroke-dasharray="4 3.95" fill="none"/>
<line x1="2814.6" x2="2925.7" y1="658.2" y2="658.2" stroke="#262626" stroke-opacity="0.75" stroke-width="2"/>
<line x1="2814.6" x2="2925.7" y1="361.3" y2="361.3" stroke="#262626" stroke-opacity="0.75" stroke-width="2"/>
<path d="M2870.1 64.5 v10 M2870.1 955.0 v-10 M2814.6 658.2 h10 M2925.7 658.2 h-10 M2814.6 361.3 h10 M2925.7 361.3 h-10" stroke="#262626" stroke-width="4.2" fill="none"/>
<rect x="2814.60" y="64.50" width="111.10" height="890.50" fill="none" stroke="#262626" stroke-width="4.2"/>
<text transform="translate(2821.2 1005.3) scale(1 1.02)" font-size="33.33px" fill="#262626">11 juil.</text>
<text transform="translate(2821.2 1051.0) scale(1 1.02)" font-size="33.33px" fill="#262626">13 juil.</text>
<rect x="2945.7" y="64.5" width="111.1" height="890.5" fill="#b3f9fc"/>
<rect x="2978.9" y="255.1" width="44.6" height="240.2" fill="#ebebeb"/>
<rect x="2978.9" y="255.1" width="44.6" height="240.2" fill="none" stroke="#000" stroke-width="2" stroke-dasharray="8 8"/>
<path d="M2985.2 322.5 h32.0 l-16.0 27.5Z" fill="#0000ff"/>
<rect x="2990.2" y="429.2" width="22.0" height="22.0" fill="#000"/>
<path d="M3001.2 450.7 l16.0 27.5 h-32.0Z" fill="#0000ff"/>
<path d="M2946.2 895.6 H3056.8 M2946.2 836.3 H3056.8 M2946.2 776.9 H3056.8 M2946.2 717.5 H3056.8 M2946.2 598.8 H3056.8 M2946.2 539.4 H3056.8 M2946.2 480.1 H3056.8 M2946.2 420.7 H3056.8 M2946.2 302.0 H3056.8 M2946.2 242.6 H3056.8 M2946.2 183.2 H3056.8 M2946.2 123.9 H3056.8" stroke="rgba(38,38,38,0.27)" stroke-width="4" stroke-dasharray="4 3.95" fill="none"/>
<line x1="2945.7" x2="3056.8" y1="658.2" y2="658.2" stroke="#262626" stroke-opacity="0.75" stroke-width="2"/>
<line x1="2945.7" x2="3056.8" y1="361.3" y2="361.3" stroke="#262626" stroke-opacity="0.75" stroke-width="2"/>
<path d="M3001.2 64.5 v10 M3001.2 955.0 v-10 M2945.7 658.2 h10 M3056.8 658.2 h-10 M2945.7 361.3 h10 M3056.8 361.3 h-10" stroke="#262626" stroke-width="4.2" fill="none"/>
<rect x="2945.70" y="64.50" width="111.10" height="890.50" fill="none" stroke="#262626" stroke-width="4.2"/>
<text transform="translate(2952.3 1005.3) scale(1 1.02)" font-size="33.33px" fill="#262626">14 juil.</text>
<text transform="translate(2952.3 1051.0) scale(1 1.02)" font-size="33.33px" fill="#262626">17 juil.</text>
<rect x="3110.2" y="294.2" width="44.6" height="339.0" fill="#ebebeb"/>
<rect x="3110.2" y="294.2" width="44.6" height="339.0" fill="none" stroke="#000" stroke-width="2" stroke-dasharray="8 8"/>
<path d="M3116.6 344.2 h32.0 l-16.0 27.5Z" fill="#0000ff"/>
<rect x="3121.6" y="565.3" width="22.0" height="22.0" fill="#000"/>
<path d="M3132.6 583.1 l16.0 27.5 h-32.0Z" fill="#0000ff"/>
<path d="M3077.9 895.6 H3187.7 M3077.9 836.3 H3187.7 M3077.9 776.9 H3187.7 M3077.9 717.5 H3187.7 M3077.9 598.8 H3187.7 M3077.9 539.4 H3187.7 M3077.9 480.1 H3187.7 M3077.9 420.7 H3187.7 M3077.9 302.0 H3187.7 M3077.9 242.6 H3187.7 M3077.9 183.2 H3187.7 M3077.9 123.9 H3187.7" stroke="rgba(38,38,38,0.27)" stroke-width="4" stroke-dasharray="4 3.95" fill="none"/>
<line x1="3077.4" x2="3187.7" y1="658.2" y2="658.2" stroke="#262626" stroke-opacity="0.75" stroke-width="2"/>
<line x1="3077.4" x2="3187.7" y1="361.3" y2="361.3" stroke="#262626" stroke-opacity="0.75" stroke-width="2"/>
<path d="M3132.6 64.5 v10 M3132.6 955.0 v-10 M3077.4 658.2 h10 M3187.7 658.2 h-10 M3077.4 361.3 h10 M3187.7 361.3 h-10" stroke="#262626" stroke-width="4.2" fill="none"/>
<rect x="3077.40" y="64.50" width="110.30" height="890.50" fill="none" stroke="#262626" stroke-width="4.2"/>
<text transform="translate(3083.6 1005.3) scale(1 1.02)" font-size="33.33px" fill="#262626">18 juil.</text>
<text transform="translate(3083.6 1051.0) scale(1 1.02)" font-size="33.33px" fill="#262626">21 juil.</text>
<rect x="3208.4" y="64.5" width="110.3" height="890.5" fill="#b3f9fc"/>
<rect x="3241.2" y="286.9" width="44.6" height="398.2" fill="#ebebeb"/>
<rect x="3241.2" y="286.9" width="44.6" height="398.2" fill="none" stroke="#000" stroke-width="2" stroke-dasharray="8 8"/>
<path d="M3247.6 401.2 h32.0 l-16.0 27.5Z" fill="#0000ff"/>
<rect x="3252.6" y="608.2" width="22.0" height="22.0" fill="#000"/>
<path d="M3263.6 635.0 l16.0 27.5 h-32.0Z" fill="#0000ff"/>
<path d="M3208.9 895.6 H3318.7 M3208.9 836.3 H3318.7 M3208.9 776.9 H3318.7 M3208.9 717.5 H3318.7 M3208.9 598.8 H3318.7 M3208.9 539.4 H3318.7 M3208.9 480.1 H3318.7 M3208.9 420.7 H3318.7 M3208.9 302.0 H3318.7 M3208.9 242.6 H3318.7 M3208.9 183.2 H3318.7 M3208.9 123.9 H3318.7" stroke="rgba(38,38,38,0.27)" stroke-width="4" stroke-dasharray="4 3.95" fill="none"/>
<line x1="3208.4" x2="3318.7" y1="658.2" y2="658.2" stroke="#262626" stroke-opacity="0.75" stroke-width="2"/>
<line x1="3208.4" x2="3318.7" y1="361.3" y2="361.3" stroke="#262626" stroke-opacity="0.75" stroke-width="2"/>
<path d="M3263.6 64.5 v10 M3263.6 955.0 v-10 M3208.4 658.2 h10 M3318.7 658.2 h-10 M3208.4 361.3 h10 M3318.7 361.3 h-10" stroke="#262626" stroke-width="4.2" fill="none"/>
<rect x="3208.40" y="64.50" width="110.30" height="890.50" fill="none" stroke="#262626" stroke-width="4.2"/>
<text transform="translate(3214.6 1005.3) scale(1 1.02)" font-size="33.33px" fill="#262626">22 juil.</text>
<text transform="translate(3214.6 1051.0) scale(1 1.02)" font-size="33.33px" fill="#262626">28 juil.</text>
<rect x="3372.4" y="292.4" width="44.6" height="565.6" fill="#ebebeb"/>
<rect x="3372.4" y="292.4" width="44.6" height="565.6" fill="none" stroke="#000" stroke-width="2" stroke-dasharray="8 8"/>
<path d="M3378.8 402.4 h32.0 l-16.0 27.5Z" fill="#0000ff"/>
<rect x="3383.8" y="730.2" width="22.0" height="22.0" fill="#000"/>
<path d="M3394.8 774.6 l16.0 27.5 h-32.0Z" fill="#0000ff"/>
<path d="M3339.0 895.6 H3451.0 M3339.0 836.3 H3451.0 M3339.0 776.9 H3451.0 M3339.0 717.5 H3451.0 M3339.0 598.8 H3451.0 M3339.0 539.4 H3451.0 M3339.0 480.1 H3451.0 M3339.0 420.7 H3451.0 M3339.0 302.0 H3451.0 M3339.0 242.6 H3451.0 M3339.0 183.2 H3451.0 M3339.0 123.9 H3451.0" stroke="rgba(38,38,38,0.27)" stroke-width="4" stroke-dasharray="4 3.95" fill="none"/>
<line x1="3338.5" x2="3451.0" y1="658.2" y2="658.2" stroke="#262626" stroke-opacity="0.75" stroke-width="2"/>
<line x1="3338.5" x2="3451.0" y1="361.3" y2="361.3" stroke="#262626" stroke-opacity="0.75" stroke-width="2"/>
<path d="M3394.8 64.5 v10 M3394.8 955.0 v-10 M3338.5 658.2 h10 M3451.0 658.2 h-10 M3338.5 361.3 h10 M3451.0 361.3 h-10" stroke="#262626" stroke-width="4.2" fill="none"/>
<rect x="3338.50" y="64.50" width="112.50" height="890.50" fill="none" stroke="#262626" stroke-width="4.2"/>
<text transform="translate(3339.2 1005.3) scale(1 1.02)" font-size="33.33px" fill="#262626">29 juil.</text>
<text transform="translate(3339.2 1051.0) scale(1 1.02)" font-size="33.33px" fill="#262626">04 août</text>
</svg></body></html>
